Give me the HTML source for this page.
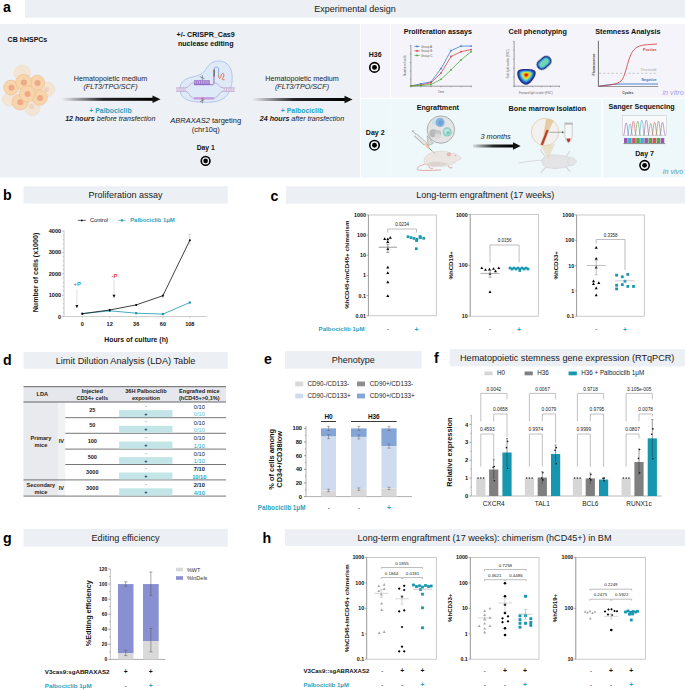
<!DOCTYPE html>
<html><head><meta charset="utf-8"><title>Figure</title>
<style>
html,body{margin:0;padding:0;background:#fff;width:685px;height:690px;overflow:hidden;}
svg{display:block;font-family:"Liberation Sans",sans-serif;}
</style></head><body>
<svg width="685" height="690" viewBox="0 0 685 690">
<rect x="0" y="0" width="685" height="690" fill="#fff"/>
<text x="3.00" y="11.90" font-size="14.2" font-weight="bold" fill="#000">a</text>
<rect x="25.00" y="0.00" width="660.00" height="17.70" fill="#eceff4" />
<text x="355.00" y="12.05" font-size="9" text-anchor="middle" fill="#1a1a1a">Experimental design</text>
<rect x="0.00" y="24.00" width="360.00" height="153.50" fill="#edf0f5" />
<rect x="361.00" y="24.00" width="29.00" height="73.80" fill="#f4f4fa" />
<rect x="391.00" y="24.00" width="294.00" height="73.80" fill="#f4f4fa" />
<rect x="361.00" y="99.20" width="240.50" height="78.30" fill="#eef7f9" />
<rect x="390.20" y="99.20" width="0.60" height="78.30" fill="#f5fafb" />
<rect x="603.00" y="99.20" width="82.00" height="78.30" fill="#eef7f9" />
<text x="7.60" y="41.50" font-size="7" font-weight="bold" fill="#111">CB hHSPCs</text>
<circle cx="22.30" cy="73.10" r="8.20" fill="#f3e4d3" stroke="#ecd8c3" stroke-width="0.4" />
<circle cx="47.70" cy="89.30" r="7.20" fill="#f3e4d3" stroke="#ecd8c3" stroke-width="0.4" />
<circle cx="8.80" cy="99.40" r="6.40" fill="#f3e4d3" stroke="#ecd8c3" stroke-width="0.4" />
<circle cx="32.40" cy="108.20" r="7.60" fill="#f3e4d3" stroke="#ecd8c3" stroke-width="0.4" />
<circle cx="46.50" cy="89.50" r="2.60" fill="#efd3c0" stroke="none" stroke-width="0.7" />
<circle cx="31.50" cy="106.50" r="2.60" fill="#efd3c0" stroke="none" stroke-width="0.7" />
<circle cx="11.20" cy="87.60" r="7.50" fill="#f8d4aa" stroke="#e6b489" stroke-width="0.45" />
<circle cx="11.50" cy="87.80" r="3.00" fill="#eeaa86" stroke="none" stroke-width="0.7" />
<circle cx="37.20" cy="82.80" r="7.60" fill="#f8d4aa" stroke="#e6b489" stroke-width="0.45" />
<circle cx="37.50" cy="83.00" r="3.00" fill="#eeaa86" stroke="none" stroke-width="0.7" />
<circle cx="20.00" cy="102.00" r="8.00" fill="#f8d4aa" stroke="#e6b489" stroke-width="0.45" />
<circle cx="20.30" cy="102.20" r="3.00" fill="#eeaa86" stroke="none" stroke-width="0.7" />
<circle cx="39.80" cy="97.70" r="7.60" fill="#f8d4aa" stroke="#e6b489" stroke-width="0.45" />
<circle cx="40.10" cy="97.90" r="3.00" fill="#eeaa86" stroke="none" stroke-width="0.7" />
<circle cx="23.60" cy="82.30" r="8.00" fill="#f8d4aa" stroke="#e6b489" stroke-width="0.45" />
<circle cx="23.90" cy="82.50" r="3.00" fill="#eeaa86" stroke="none" stroke-width="0.7" />
<circle cx="27.30" cy="93.70" r="8.00" fill="#f8d4aa" stroke="#e6b489" stroke-width="0.45" />
<circle cx="27.60" cy="93.90" r="3.00" fill="#eeaa86" stroke="none" stroke-width="0.7" />
<defs><linearGradient id="ag" x1="0" x2="1" y1="0" y2="0"><stop offset="0" stop-color="#000" stop-opacity="0"/><stop offset="0.45" stop-color="#000" stop-opacity="0.85"/><stop offset="1" stop-color="#000"/></linearGradient></defs>
<rect x="61.50" y="97.80" width="92.00" height="3.00" fill="url(#ag)" />
<path d="M152.50,95.60 L160.50,99.30 L152.50,103.00 Z" fill="#111" stroke="none" stroke-width="0.7" />
<text x="110.50" y="81.40" font-size="7.2" text-anchor="middle" fill="#222">Hematopoietic medium</text>
<text x="110.50" y="89.40" font-size="7.2" text-anchor="middle" font-style="italic" fill="#222">(FLT3/TPO/SCF)</text>
<text x="110.50" y="113.20" font-size="6.9" font-weight="bold" text-anchor="middle" fill="#29a3bf">+ Palbociclib</text>
<text x="110.3" y="121.0" font-size="7.1" text-anchor="middle" fill="#222" font-style="italic"><tspan font-weight="bold">12 hours</tspan> before transfection</text>
<text x="205.70" y="37.30" font-size="7.1" font-weight="bold" text-anchor="middle" fill="#111">+/- CRISPR_Cas9</text>
<text x="205.70" y="45.50" font-size="7.1" font-weight="bold" text-anchor="middle" fill="#111">nuclease editing</text>
<path d="M180,88.8 C180,82 185,78.5 192,77 C199,75.5 203,74 206,69 C209,64 213,61 219,61 C226,61 231,66 232,74 C233,84 230,93 225,97.5 C219,102 211,102.5 203.7,102.3 C194,102 186,101 182,96 C180.5,94 180,91 180,88.8 Z" fill="#dfeaf8" stroke="#8aa6dc" stroke-width="0.55" />
<rect x="176.10" y="87.80" width="9.70" height="3.60" fill="#e6d8ec" />
<rect x="223.10" y="87.80" width="11.80" height="3.60" fill="#e6d8ec" />
<line x1="177.20" y1="87.80" x2="177.20" y2="91.40" stroke="#c8b0d6" stroke-width="0.5" />
<line x1="224.20" y1="87.80" x2="224.20" y2="91.40" stroke="#c8b0d6" stroke-width="0.5" />
<line x1="179.20" y1="87.80" x2="179.20" y2="91.40" stroke="#c8b0d6" stroke-width="0.5" />
<line x1="226.50" y1="87.80" x2="226.50" y2="91.40" stroke="#c8b0d6" stroke-width="0.5" />
<line x1="181.20" y1="87.80" x2="181.20" y2="91.40" stroke="#c8b0d6" stroke-width="0.5" />
<line x1="228.80" y1="87.80" x2="228.80" y2="91.40" stroke="#c8b0d6" stroke-width="0.5" />
<line x1="183.20" y1="87.80" x2="183.20" y2="91.40" stroke="#c8b0d6" stroke-width="0.5" />
<line x1="231.10" y1="87.80" x2="231.10" y2="91.40" stroke="#c8b0d6" stroke-width="0.5" />
<line x1="185.20" y1="87.80" x2="185.20" y2="91.40" stroke="#c8b0d6" stroke-width="0.5" />
<line x1="233.40" y1="87.80" x2="233.40" y2="91.40" stroke="#c8b0d6" stroke-width="0.5" />
<line x1="176.10" y1="87.80" x2="185.80" y2="87.80" stroke="#a58ab8" stroke-width="0.5" />
<line x1="176.10" y1="91.40" x2="185.80" y2="91.40" stroke="#a58ab8" stroke-width="0.5" />
<line x1="223.10" y1="87.80" x2="234.90" y2="87.80" stroke="#a58ab8" stroke-width="0.5" />
<line x1="223.10" y1="91.40" x2="234.90" y2="91.40" stroke="#a58ab8" stroke-width="0.5" />
<path d="M185.8,87.8 C189,87.6 190,82.6 194,82.6" fill="none" stroke="#a58ab8" stroke-width="0.6" />
<path d="M185.8,91.4 C189,91.6 190,98.3 194,98.3" fill="none" stroke="#a58ab8" stroke-width="0.6" />
<path d="M213.9,98.3 C218,98.3 219,91.6 223.1,91.4" fill="none" stroke="#a58ab8" stroke-width="0.6" />
<path d="M213.9,82.6 C218,82.6 219,87.6 223.1,87.8" fill="none" stroke="#a58ab8" stroke-width="0.6" />
<rect x="194.00" y="80.10" width="15.80" height="4.60" fill="#a07ccc" />
<line x1="195.30" y1="80.60" x2="195.30" y2="83.60" stroke="#d6c4ea" stroke-width="0.7" />
<line x1="197.40" y1="80.60" x2="197.40" y2="83.60" stroke="#d6c4ea" stroke-width="0.7" />
<line x1="199.50" y1="80.60" x2="199.50" y2="83.60" stroke="#d6c4ea" stroke-width="0.7" />
<line x1="201.60" y1="80.60" x2="201.60" y2="83.60" stroke="#d6c4ea" stroke-width="0.7" />
<line x1="203.70" y1="80.60" x2="203.70" y2="83.60" stroke="#d6c4ea" stroke-width="0.7" />
<line x1="205.80" y1="80.60" x2="205.80" y2="83.60" stroke="#d6c4ea" stroke-width="0.7" />
<line x1="207.90" y1="80.60" x2="207.90" y2="83.60" stroke="#d6c4ea" stroke-width="0.7" />
<path d="M194,84.7 L212.5,84.7 C213.5,84.7 213.9,84 213.9,83 L213.9,70" fill="none" stroke="#7e4fc0" stroke-width="0.8" />
<rect x="194.00" y="97.20" width="19.90" height="2.30" fill="#c49ae0" />
<rect x="201.00" y="97.00" width="3.20" height="2.60" fill="#e08ab8" />
<path d="M214.2,72 L214.2,68.6 C214.2,66.6 218.6,66.6 218.6,68.6 L218.6,75" fill="none" stroke="#5a82c8" stroke-width="0.6" />
<rect x="213.60" y="69.50" width="1.40" height="7.00" fill="#777" />
<path d="M218.6,75 C218.6,79 220.5,79.6 221,76 C221.5,72.5 224.5,72.5 223.8,76 C223.3,78.6 221.5,79 222.5,79.6 C223.5,80.1 224.6,79.6 224.6,79.6" fill="none" stroke="#e0562f" stroke-width="0.8" />
<path d="M199.8,76.6 L204.6,78.8 M202.4,75.0 L202.2,80.2 M199.8,101.8 L204.6,99.6 M202.4,103.4 L202.2,98.2" fill="none" stroke="#444" stroke-width="0.5" />
<text x="205.7" y="122.9" font-size="7.5" text-anchor="middle" fill="#222"><tspan font-style="italic">ABRAXAS2</tspan> targeting</text>
<text x="205.70" y="132.30" font-size="7.5" text-anchor="middle" fill="#222">(chr10q)</text>
<text x="205.70" y="149.80" font-size="6.8" font-weight="bold" text-anchor="middle" fill="#111">Day 1</text>
<circle cx="205.60" cy="160.90" r="4.35" fill="none" stroke="#000" stroke-width="1.6" />
<circle cx="205.60" cy="160.90" r="2.29" fill="#000" stroke="none" stroke-width="0.7" />
<rect x="252.00" y="98.00" width="93.50" height="3.00" fill="url(#ag)" />
<path d="M344.50,95.80 L352.50,99.50 L344.50,103.20 Z" fill="#111" stroke="none" stroke-width="0.7" />
<text x="302.00" y="81.20" font-size="7.2" text-anchor="middle" fill="#222">Hematopoietic medium</text>
<text x="302.00" y="89.40" font-size="7.2" text-anchor="middle" font-style="italic" fill="#222">(FLT3/TPO/SCF)</text>
<text x="302.00" y="112.60" font-size="6.9" font-weight="bold" text-anchor="middle" fill="#29a3bf">+ Palbociclib</text>
<text x="302" y="121.0" font-size="7.1" text-anchor="middle" fill="#222" font-style="italic"><tspan font-weight="bold">24 hours</tspan>  after transfection</text>
<text x="375.20" y="56.60" font-size="7.0" font-weight="bold" text-anchor="middle" fill="#111">H36</text>
<circle cx="374.50" cy="67.40" r="4.75" fill="none" stroke="#000" stroke-width="1.6" />
<circle cx="374.50" cy="67.40" r="2.46" fill="#000" stroke="none" stroke-width="0.7" />
<text x="375.20" y="134.60" font-size="7.0" font-weight="bold" text-anchor="middle" fill="#111">Day 2</text>
<circle cx="374.50" cy="145.20" r="4.75" fill="none" stroke="#000" stroke-width="1.6" />
<circle cx="374.50" cy="145.20" r="2.46" fill="#000" stroke="none" stroke-width="0.7" />
<text x="437.80" y="34.30" font-size="7.2" font-weight="bold" text-anchor="middle" fill="#111">Proliferation assays</text>
<line x1="410.90" y1="45.00" x2="410.90" y2="86.20" stroke="#444" stroke-width="0.5" />
<line x1="410.90" y1="86.20" x2="472.00" y2="86.20" stroke="#444" stroke-width="0.5" />
<line x1="410.90" y1="86.20" x2="410.90" y2="87.30" stroke="#444" stroke-width="0.4" />
<line x1="420.90" y1="86.20" x2="420.90" y2="87.30" stroke="#444" stroke-width="0.4" />
<line x1="431.00" y1="86.20" x2="431.00" y2="87.30" stroke="#444" stroke-width="0.4" />
<line x1="441.00" y1="86.20" x2="441.00" y2="87.30" stroke="#444" stroke-width="0.4" />
<line x1="451.00" y1="86.20" x2="451.00" y2="87.30" stroke="#444" stroke-width="0.4" />
<line x1="461.00" y1="86.20" x2="461.00" y2="87.30" stroke="#444" stroke-width="0.4" />
<line x1="471.10" y1="86.20" x2="471.10" y2="87.30" stroke="#444" stroke-width="0.4" />
<line x1="410.90" y1="45.50" x2="409.90" y2="45.50" stroke="#444" stroke-width="0.4" />
<line x1="410.90" y1="54.00" x2="409.90" y2="54.00" stroke="#444" stroke-width="0.4" />
<line x1="410.90" y1="62.50" x2="409.90" y2="62.50" stroke="#444" stroke-width="0.4" />
<line x1="410.90" y1="71.00" x2="409.90" y2="71.00" stroke="#444" stroke-width="0.4" />
<line x1="410.90" y1="79.00" x2="409.90" y2="79.00" stroke="#444" stroke-width="0.4" />
<polyline points="410.9,85.9 420.9,83.8 431.0,81.9 441.0,68.6 451.0,50.6 461.0,46.1 471.1,46.1" fill="none" stroke="#3a7fd6" stroke-width="0.8"/>
<circle cx="410.90" cy="85.90" r="0.90" fill="#3a7fd6" stroke="none" stroke-width="0.7" />
<circle cx="420.90" cy="83.80" r="0.90" fill="#3a7fd6" stroke="none" stroke-width="0.7" />
<circle cx="431.00" cy="81.90" r="0.90" fill="#3a7fd6" stroke="none" stroke-width="0.7" />
<circle cx="441.00" cy="68.60" r="0.90" fill="#3a7fd6" stroke="none" stroke-width="0.7" />
<circle cx="451.00" cy="50.60" r="0.90" fill="#3a7fd6" stroke="none" stroke-width="0.7" />
<circle cx="461.00" cy="46.10" r="0.90" fill="#3a7fd6" stroke="none" stroke-width="0.7" />
<circle cx="471.10" cy="46.10" r="0.90" fill="#3a7fd6" stroke="none" stroke-width="0.7" />
<polyline points="410.9,85.9 420.9,85.0 431.0,82.7 441.0,73.1 451.0,56.5 461.0,51.7 471.1,49.6" fill="none" stroke="#d64545" stroke-width="0.8"/>
<circle cx="410.90" cy="85.90" r="0.90" fill="#d64545" stroke="none" stroke-width="0.7" />
<circle cx="420.90" cy="85.00" r="0.90" fill="#d64545" stroke="none" stroke-width="0.7" />
<circle cx="431.00" cy="82.70" r="0.90" fill="#d64545" stroke="none" stroke-width="0.7" />
<circle cx="441.00" cy="73.10" r="0.90" fill="#d64545" stroke="none" stroke-width="0.7" />
<circle cx="451.00" cy="56.50" r="0.90" fill="#d64545" stroke="none" stroke-width="0.7" />
<circle cx="461.00" cy="51.70" r="0.90" fill="#d64545" stroke="none" stroke-width="0.7" />
<circle cx="471.10" cy="49.60" r="0.90" fill="#d64545" stroke="none" stroke-width="0.7" />
<polyline points="410.9,85.9 420.9,85.4 431.0,84.6 441.0,79.3 451.0,69.9 461.0,59.9 471.1,51.7" fill="none" stroke="#4fae3f" stroke-width="0.8"/>
<circle cx="410.90" cy="85.90" r="0.90" fill="#4fae3f" stroke="none" stroke-width="0.7" />
<circle cx="420.90" cy="85.40" r="0.90" fill="#4fae3f" stroke="none" stroke-width="0.7" />
<circle cx="431.00" cy="84.60" r="0.90" fill="#4fae3f" stroke="none" stroke-width="0.7" />
<circle cx="441.00" cy="79.30" r="0.90" fill="#4fae3f" stroke="none" stroke-width="0.7" />
<circle cx="451.00" cy="69.90" r="0.90" fill="#4fae3f" stroke="none" stroke-width="0.7" />
<circle cx="461.00" cy="59.90" r="0.90" fill="#4fae3f" stroke="none" stroke-width="0.7" />
<circle cx="471.10" cy="51.70" r="0.90" fill="#4fae3f" stroke="none" stroke-width="0.7" />
<line x1="414.50" y1="46.40" x2="419.50" y2="46.40" stroke="#3a7fd6" stroke-width="0.8" />
<circle cx="417.00" cy="46.40" r="0.90" fill="#3a7fd6" stroke="none" stroke-width="0.7" />
<text x="421.00" y="47.50" font-size="3.0" fill="#666">Group A</text>
<line x1="414.50" y1="50.90" x2="419.50" y2="50.90" stroke="#d64545" stroke-width="0.8" />
<circle cx="417.00" cy="50.90" r="0.90" fill="#d64545" stroke="none" stroke-width="0.7" />
<text x="421.00" y="52.00" font-size="3.0" fill="#666">Group B</text>
<line x1="414.50" y1="55.40" x2="419.50" y2="55.40" stroke="#4fae3f" stroke-width="0.8" />
<circle cx="417.00" cy="55.40" r="0.90" fill="#4fae3f" stroke="none" stroke-width="0.7" />
<text x="421.00" y="56.50" font-size="3.0" fill="#666">Group C</text>
<text x="441.00" y="93.30" font-size="3.0" text-anchor="middle" fill="#666">Time</text>
<text x="406.20" y="65.60" font-size="3.0" text-anchor="middle" fill="#666" transform="rotate(-90 406.20 65.60)">Number of cells</text>
<text x="537.70" y="34.30" font-size="7.2" font-weight="bold" text-anchor="middle" fill="#111">Cell phenotyping</text>
<line x1="514.10" y1="41.00" x2="514.10" y2="86.20" stroke="#444" stroke-width="0.5" />
<line x1="514.10" y1="86.20" x2="560.00" y2="86.20" stroke="#444" stroke-width="0.5" />
<line x1="514.10" y1="86.20" x2="514.10" y2="87.20" stroke="#444" stroke-width="0.4" />
<line x1="514.10" y1="86.20" x2="513.10" y2="86.20" stroke="#444" stroke-width="0.4" />
<line x1="523.20" y1="86.20" x2="523.20" y2="87.20" stroke="#444" stroke-width="0.4" />
<line x1="514.10" y1="77.20" x2="513.10" y2="77.20" stroke="#444" stroke-width="0.4" />
<line x1="532.30" y1="86.20" x2="532.30" y2="87.20" stroke="#444" stroke-width="0.4" />
<line x1="514.10" y1="68.20" x2="513.10" y2="68.20" stroke="#444" stroke-width="0.4" />
<line x1="541.40" y1="86.20" x2="541.40" y2="87.20" stroke="#444" stroke-width="0.4" />
<line x1="514.10" y1="59.20" x2="513.10" y2="59.20" stroke="#444" stroke-width="0.4" />
<line x1="550.50" y1="86.20" x2="550.50" y2="87.20" stroke="#444" stroke-width="0.4" />
<line x1="514.10" y1="50.20" x2="513.10" y2="50.20" stroke="#444" stroke-width="0.4" />
<line x1="559.60" y1="86.20" x2="559.60" y2="87.20" stroke="#444" stroke-width="0.4" />
<line x1="514.10" y1="41.20" x2="513.10" y2="41.20" stroke="#444" stroke-width="0.4" />
<defs><filter id="bl" x="-20%" y="-20%" width="140%" height="140%"><feGaussianBlur stdDeviation="0.35"/></filter></defs>
<g transform="translate(526.2 75.6) scale(1 1.08)" filter="url(#bl)"><path d="M-9,-2 C-9,-6 -4,-6 0,-6 C5,-6 10,-5.5 9.5,-2 C9,2 4,8 0,8.5 C-4,8.5 -9,3 -9,-2 Z" fill="#1f2e88" transform="translate(0 -0.00) scale(1.0)"/><path d="M-9,-2 C-9,-6 -4,-6 0,-6 C5,-6 10,-5.5 9.5,-2 C9,2 4,8 0,8.5 C-4,8.5 -9,3 -9,-2 Z" fill="#2f4fb8" transform="translate(0 -0.11) scale(0.86)"/><path d="M-9,-2 C-9,-6 -4,-6 0,-6 C5,-6 10,-5.5 9.5,-2 C9,2 4,8 0,8.5 C-4,8.5 -9,3 -9,-2 Z" fill="#3aa7dc" transform="translate(0 -0.22) scale(0.72)"/><path d="M-9,-2 C-9,-6 -4,-6 0,-6 C5,-6 10,-5.5 9.5,-2 C9,2 4,8 0,8.5 C-4,8.5 -9,3 -9,-2 Z" fill="#62d6c0" transform="translate(0 -0.34) scale(0.58)"/><path d="M-9,-2 C-9,-6 -4,-6 0,-6 C5,-6 10,-5.5 9.5,-2 C9,2 4,8 0,8.5 C-4,8.5 -9,3 -9,-2 Z" fill="#c8e040" transform="translate(0 -0.42) scale(0.48)"/><path d="M-9,-2 C-9,-6 -4,-6 0,-6 C5,-6 10,-5.5 9.5,-2 C9,2 4,8 0,8.5 C-4,8.5 -9,3 -9,-2 Z" fill="#f2d21c" transform="translate(0 -0.50) scale(0.38)"/><path d="M-9,-2 C-9,-6 -4,-6 0,-6 C5,-6 10,-5.5 9.5,-2 C9,2 4,8 0,8.5 C-4,8.5 -9,3 -9,-2 Z" fill="#f07a1c" transform="translate(0 -0.58) scale(0.27)"/><path d="M-9,-2 C-9,-6 -4,-6 0,-6 C5,-6 10,-5.5 9.5,-2 C9,2 4,8 0,8.5 C-4,8.5 -9,3 -9,-2 Z" fill="#d01a12" transform="translate(0 -0.67) scale(0.16)"/></g>
<g transform="translate(544.1 62.9) rotate(-40)" filter="url(#bl)"><rect x="-8" y="-5.2" width="16" height="10.4" rx="5" fill="#1f2e88"/><rect x="-6.4" y="-3.8" width="12.8" height="7.6" rx="3.8" fill="#3aa7dc"/><rect x="-5.2" y="-2.8" width="10.4" height="5.6" rx="2.8" fill="#6fd6b0"/></g>
<text x="519.00" y="94.30" font-size="2.8" fill="#666">Forward light scatter (FSC)</text>
<text x="508.50" y="64.00" font-size="2.8" text-anchor="middle" fill="#666" transform="rotate(-90 508.50 64.00)">Side light scatter (SSC)</text>
<text x="627.90" y="34.30" font-size="7.2" font-weight="bold" text-anchor="middle" fill="#111">Stemness Analysis</text>
<line x1="598.40" y1="40.70" x2="598.40" y2="86.70" stroke="#333" stroke-width="0.7" />
<line x1="598.40" y1="86.50" x2="658.20" y2="86.50" stroke="#999" stroke-width="1.2" />
<path d="M598.6,86.3 C606,85 612,84.3 620,84 L658,84" fill="none" stroke="#3a78c8" stroke-width="0.9" />
<path d="M598.6,86.3 C610,85 617,84.5 621,81 C625,77 626.5,66 629.5,58 C632.5,49 637,46 644,45 C649,44.5 653,44.3 657,44" fill="none" stroke="#d23a3a" stroke-width="0.8" />
<line x1="599.00" y1="73.30" x2="655.50" y2="73.30" stroke="#aaa" stroke-width="0.6" stroke-dasharray="2.2 2.0"/>
<text x="649.80" y="50.70" font-size="3.5" font-weight="bold" text-anchor="middle" fill="#d23a3a">Positive</text>
<text x="648.20" y="70.70" font-size="3.6" text-anchor="middle" fill="#aaa">Threshold</text>
<text x="649.00" y="80.80" font-size="3.6" font-weight="bold" text-anchor="middle" fill="#3a78c8">Negative</text>
<text x="627.80" y="93.60" font-size="3.4" font-weight="bold" text-anchor="middle" fill="#444">Cycles</text>
<text x="594.50" y="64.50" font-size="3.4" font-weight="bold" text-anchor="middle" fill="#444" transform="rotate(-90 594.50 64.50)">Fluorescence</text>
<text x="662.50" y="95.40" font-size="7.2" font-style="italic" fill="#a8a2ee">in vitro</text>
<text x="437.80" y="109.80" font-size="7.2" font-weight="bold" text-anchor="middle" fill="#111">Engraftment</text>
<path d="M426.8,163.7 C421,165 416,167 417.5,169.5 C419,171 430,170.5 441,169.9" fill="none" stroke="#e3a39c" stroke-width="0.9" />
<path d="M424,162 C423,156 430,151.5 440,151.3 C446,151.2 449,152 451.5,153.5 C454,152.5 457,154 459.5,156.5 L461.5,158.2 C461,159.5 459,160 457,160.5 C455,163.5 450,166 442,166.3 C434,166.8 425,166.3 424,162 Z" fill="#ece6e2" stroke="#cfc4bf" stroke-width="0.4" />
<path d="M426,163.5 C432,161 440,161.5 448,163.5 C446,165.5 440,166.3 433,166.3 C429,166.2 426.5,165.3 426,163.5 Z" fill="#ddd4cf" stroke="none" stroke-width="0.7" />
<circle cx="448.90" cy="154.30" r="1.90" fill="#eeb9b3" stroke="#d9a39b" stroke-width="0.3" />
<circle cx="455.30" cy="155.60" r="0.45" fill="#c03030" stroke="none" stroke-width="0.7" />
<path d="M428.5,166 L430,168.3 L433,168.3 M448,165.5 L449.5,167.8 L452.5,167.8" fill="none" stroke="#e3a39c" stroke-width="0.9" />
<path d="M411.6,131.9 L413.8,130.2 M412.7,131.0 L416,134.2" fill="none" stroke="#9a9a9a" stroke-width="0.8" />
<path d="M415.4,134.8 L425.4,143.8" fill="none" stroke="#8e8e8e" stroke-width="3.6" stroke-linecap="butt"/>
<path d="M415.4,134.8 L425.4,143.8" fill="none" stroke="#eaeaea" stroke-width="2.8" stroke-linecap="butt"/>
<path d="M425.4,143.8 L429.2,148.2" fill="none" stroke="#f0c9a2" stroke-width="2.6" stroke-linecap="butt"/>
<path d="M429.2,148.2 L431.8,150.8" fill="none" stroke="#3fae9a" stroke-width="0.9" />
<path d="M431.8,150.8 L435.4,153.7" fill="none" stroke="#888" stroke-width="0.4" />
<path d="M427.3,135.7 L427.8,145.7 L433.5,143.3 Z" fill="#d9d9d9" stroke="#7a7a7a" stroke-width="0.4" />
<circle cx="440.90" cy="129.60" r="13.70" fill="#e4e4e4" stroke="#6f6f6f" stroke-width="0.5" />
<circle cx="435.40" cy="122.00" r="3.60" fill="#cde0f0" stroke="none" stroke-width="0.7" />
<circle cx="440.10" cy="122.40" r="4.60" fill="#86b6e0" stroke="none" stroke-width="0.7" />
<circle cx="440.60" cy="122.80" r="2.60" fill="#6fa3d6" stroke="none" stroke-width="0.7" />
<circle cx="433.50" cy="133.30" r="4.10" fill="#b9b9b9" stroke="none" stroke-width="0.7" />
<circle cx="437.90" cy="133.30" r="3.20" fill="#c4c4c4" stroke="none" stroke-width="0.7" />
<circle cx="437.70" cy="136.20" r="3.00" fill="#dadada" stroke="none" stroke-width="0.7" />
<circle cx="447.20" cy="131.90" r="4.60" fill="#8fd2c6" stroke="none" stroke-width="0.7" />
<circle cx="447.00" cy="131.60" r="2.60" fill="#c2e9e2" stroke="none" stroke-width="0.7" />
<circle cx="447.80" cy="132.60" r="1.40" fill="#6cc3b5" stroke="none" stroke-width="0.7" />
<text x="495.60" y="138.70" font-size="7.4" text-anchor="middle" font-style="italic" fill="#222">3 months</text>
<defs><linearGradient id="ag2" x1="0" x2="1"><stop offset="0" stop-color="#000" stop-opacity="0.1"/><stop offset="0.5" stop-color="#000" stop-opacity="0.85"/><stop offset="1" stop-color="#000"/></linearGradient></defs>
<rect x="473.00" y="144.50" width="41.00" height="3.00" fill="url(#ag2)" />
<path d="M513,142.2 L520.6,146 L513,149.8 Z" fill="#111" stroke="none" stroke-width="0.7" />
<text x="547.30" y="110.70" font-size="7.2" font-weight="bold" text-anchor="middle" fill="#111">Bone marrow Isolation</text>
<path d="M542.8,160.2 C535,160.5 526,161.5 518.8,163" fill="none" stroke="#cfcfd3" stroke-width="0.7" />
<path d="M545,156 L541,151 L540.5,149 M546,167 L542,171 L541,173 M566,156.5 L569,152.5 L570,151 M566,167 L569,170.5 L570.5,171.5" fill="none" stroke="#d6d6da" stroke-width="1.2" />
<path d="M542,161.5 C542,156.5 548,154.5 556,155 C562,155.3 566,156 569,157.5 C572,156.5 575,158.5 576.5,161.5 C575,164.5 572,166.5 569,165.6 C566,167.5 562,168.2 556,168.4 C548,168.8 542,166.5 542,161.5 Z" fill="#e4e4e6" stroke="#c6c6ca" stroke-width="0.45" />
<path d="M569,157.5 C567.5,160 567.5,163 569,165.6" fill="none" stroke="#cfcfd3" stroke-width="0.5" />
<path d="M540.1,144.8 L548.3,159.1 L554.9,143.8 Z" fill="#ead3ab" stroke="none" stroke-width="0.7" opacity="0.6"/>
<circle cx="545.00" cy="132.00" r="13.70" fill="#f3f1ef" stroke="#d9bb92" stroke-width="0.55" />
<path d="M546.1,119.1 C549,118.6 552,119.2 553.8,120.8 C551,126 549,130 547.5,134 L543.6,134 C544.5,128 545.5,123 546.1,119.1 Z" fill="#e3c79a" stroke="none" stroke-width="0.7" opacity="0.9"/>
<path d="M547.6,130 L541.8,144.8" fill="none" stroke="#d9b98a" stroke-width="3.4" />
<path d="M547.6,130 L541.8,144.8" fill="none" stroke="#b8392f" stroke-width="2.0" />
<line x1="549.40" y1="132.30" x2="563.00" y2="132.30" stroke="#555" stroke-width="0.45" />
<path d="M562,131.1 L564,132.3 L562,133.5 Z" fill="#555" stroke="none" stroke-width="0.7" />
<path d="M564.9,124 L572.2,124 L572.2,135 C572.2,139.5 569.8,142.7 568.5,142.7 C567.2,142.7 564.9,139.5 564.9,135 Z" fill="#f6f8f8" stroke="#9a9a9a" stroke-width="0.45" />
<path d="M566.5,138.6 L570.6,138.6 C570.2,141 569.2,142.2 568.5,142.2 C567.8,142.2 566.9,141 566.5,138.6 Z" fill="#c0302a" stroke="none" stroke-width="0.7" />
<rect x="564.40" y="122.60" width="8.40" height="1.80" fill="#b9b9b9" />
<text x="641.60" y="109.10" font-size="7.1" font-weight="bold" text-anchor="middle" fill="#111">Sanger Sequencing</text>
<rect x="622.30" y="115.60" width="44.10" height="20.10" fill="#f9fafb" stroke="#b5b5b5" stroke-width="0.4"/>
<path d="M623.6,135.6 C625.0,131.9 625.1,122.9 626.2,122.9 C627.3,122.9 627.4,131.9 628.8,135.6" fill="none" stroke="#9b59b6" stroke-width="0.6" />
<path d="M627.5,135.6 C628.9,133.0 629.0,124.0 630.1,124.0 C631.2,124.0 631.3,133.0 632.7,135.6" fill="none" stroke="#3fb0c8" stroke-width="0.6" />
<path d="M630.8,135.6 C632.2,130.2 632.3,121.2 633.4,121.2 C634.5,121.2 634.6,130.2 636.0,135.6" fill="none" stroke="#d9506a" stroke-width="0.6" />
<path d="M635.1,135.6 C636.5,130.2 636.6,121.2 637.7,121.2 C638.8,121.2 638.9,130.2 640.3,135.6" fill="none" stroke="#5ca04a" stroke-width="0.6" />
<path d="M639.2,135.6 C640.6,129.1 640.7,120.1 641.8,120.1 C642.9,120.1 643.0,129.1 644.4,135.6" fill="none" stroke="#3fb0c8" stroke-width="0.6" />
<path d="M643.7,135.6 C645.1,129.1 645.2,120.1 646.3,120.1 C647.4,120.1 647.5,129.1 648.9,135.6" fill="none" stroke="#9b59b6" stroke-width="0.6" />
<path d="M648.1,135.6 C649.5,132.4 649.6,123.4 650.7,123.4 C651.8,123.4 651.9,132.4 653.3,135.6" fill="none" stroke="#5ca04a" stroke-width="0.6" />
<path d="M652.0,135.6 C653.4,131.3 653.5,122.3 654.6,122.3 C655.7,122.3 655.8,131.3 657.2,135.6" fill="none" stroke="#d9506a" stroke-width="0.6" />
<path d="M655.9,135.6 C657.3,130.2 657.4,121.2 658.5,121.2 C659.6,121.2 659.7,130.2 661.1,135.6" fill="none" stroke="#5ca04a" stroke-width="0.6" />
<path d="M659.9,135.6 C661.3,131.3 661.4,122.3 662.5,122.3 C663.6,122.3 663.7,131.3 665.1,135.6" fill="none" stroke="#9b59b6" stroke-width="0.6" />
<rect x="624.00" y="138.00" width="3.60" height="5.00" fill="#9b59b6" />
<rect x="628.07" y="138.00" width="3.60" height="5.00" fill="#3fb0c8" />
<rect x="632.14" y="138.00" width="3.60" height="5.00" fill="#d9506a" />
<rect x="636.21" y="138.00" width="3.60" height="5.00" fill="#5ca04a" />
<rect x="640.28" y="138.00" width="3.60" height="5.00" fill="#3fb0c8" />
<rect x="644.35" y="138.00" width="3.60" height="5.00" fill="#9b59b6" />
<rect x="648.42" y="138.00" width="3.60" height="5.00" fill="#5ca04a" />
<rect x="652.49" y="138.00" width="3.60" height="5.00" fill="#d9506a" />
<rect x="656.56" y="138.00" width="3.60" height="5.00" fill="#5ca04a" />
<rect x="660.63" y="138.00" width="3.60" height="5.00" fill="#9b59b6" />
<line x1="623.50" y1="143.60" x2="665.20" y2="143.60" stroke="#444" stroke-width="0.6" />
<text x="644.60" y="155.80" font-size="7.0" font-weight="bold" text-anchor="middle" fill="#111">Day 7</text>
<circle cx="644.60" cy="165.30" r="4.65" fill="none" stroke="#000" stroke-width="1.6" />
<circle cx="644.60" cy="165.30" r="2.42" fill="#000" stroke="none" stroke-width="0.7" />
<text x="662.80" y="174.30" font-size="7.2" font-style="italic" fill="#39a9c4">in vivo</text>
<text x="3.00" y="200.30" font-size="14.2" font-weight="bold" fill="#000">b</text>
<rect x="23.50" y="186.20" width="204.20" height="17.40" fill="#eceff4" />
<text x="125.60" y="198.10" font-size="9" text-anchor="middle" fill="#1a1a1a">Proliferation assay</text>
<line x1="77.80" y1="220.40" x2="85.80" y2="220.40" stroke="#000" stroke-width="0.6" />
<circle cx="81.80" cy="220.40" r="0.90" fill="#000" stroke="none" stroke-width="0.7" />
<text x="90.00" y="222.30" font-size="5.6" fill="#111">Control</text>
<line x1="118.20" y1="220.40" x2="125.60" y2="220.40" stroke="#1697af" stroke-width="0.6" />
<rect x="120.89" y="219.39" width="2.02" height="2.02" fill="#1697af" />
<text x="130.20" y="222.30" font-size="5.9" font-weight="bold" fill="#29a3bf">Palbociclib 1μM</text>
<line x1="64.00" y1="230.60" x2="64.00" y2="316.80" stroke="#b8b8b8" stroke-width="0.8" />
<line x1="63.70" y1="316.50" x2="207.10" y2="316.50" stroke="#c8c8c8" stroke-width="0.9" />
<line x1="62.00" y1="316.50" x2="64.00" y2="316.50" stroke="#999" stroke-width="0.5" />
<text x="61.20" y="318.50" font-size="5.6" font-weight="bold" text-anchor="end" fill="#111">0</text>
<line x1="62.80" y1="312.23" x2="64.00" y2="312.23" stroke="#999" stroke-width="0.5" />
<line x1="62.80" y1="307.96" x2="64.00" y2="307.96" stroke="#999" stroke-width="0.5" />
<line x1="62.80" y1="303.69" x2="64.00" y2="303.69" stroke="#999" stroke-width="0.5" />
<line x1="62.80" y1="299.42" x2="64.00" y2="299.42" stroke="#999" stroke-width="0.5" />
<line x1="62.00" y1="295.15" x2="64.00" y2="295.15" stroke="#999" stroke-width="0.5" />
<text x="61.20" y="297.15" font-size="5.6" font-weight="bold" text-anchor="end" fill="#111">1000</text>
<line x1="62.80" y1="290.88" x2="64.00" y2="290.88" stroke="#999" stroke-width="0.5" />
<line x1="62.80" y1="286.61" x2="64.00" y2="286.61" stroke="#999" stroke-width="0.5" />
<line x1="62.80" y1="282.34" x2="64.00" y2="282.34" stroke="#999" stroke-width="0.5" />
<line x1="62.80" y1="278.07" x2="64.00" y2="278.07" stroke="#999" stroke-width="0.5" />
<line x1="62.00" y1="273.80" x2="64.00" y2="273.80" stroke="#999" stroke-width="0.5" />
<text x="61.20" y="275.80" font-size="5.6" font-weight="bold" text-anchor="end" fill="#111">2000</text>
<line x1="62.80" y1="269.53" x2="64.00" y2="269.53" stroke="#999" stroke-width="0.5" />
<line x1="62.80" y1="265.26" x2="64.00" y2="265.26" stroke="#999" stroke-width="0.5" />
<line x1="62.80" y1="260.99" x2="64.00" y2="260.99" stroke="#999" stroke-width="0.5" />
<line x1="62.80" y1="256.72" x2="64.00" y2="256.72" stroke="#999" stroke-width="0.5" />
<line x1="62.00" y1="252.45" x2="64.00" y2="252.45" stroke="#999" stroke-width="0.5" />
<text x="61.20" y="254.45" font-size="5.6" font-weight="bold" text-anchor="end" fill="#111">3000</text>
<line x1="62.80" y1="248.18" x2="64.00" y2="248.18" stroke="#999" stroke-width="0.5" />
<line x1="62.80" y1="243.91" x2="64.00" y2="243.91" stroke="#999" stroke-width="0.5" />
<line x1="62.80" y1="239.64" x2="64.00" y2="239.64" stroke="#999" stroke-width="0.5" />
<line x1="62.80" y1="235.37" x2="64.00" y2="235.37" stroke="#999" stroke-width="0.5" />
<line x1="62.00" y1="231.10" x2="64.00" y2="231.10" stroke="#999" stroke-width="0.5" />
<text x="61.20" y="233.10" font-size="5.6" font-weight="bold" text-anchor="end" fill="#111">4000</text>
<line x1="82.30" y1="316.50" x2="82.30" y2="318.30" stroke="#aaa" stroke-width="0.5" />
<text x="82.30" y="325.90" font-size="5.6" font-weight="bold" text-anchor="middle" fill="#111">0</text>
<line x1="109.70" y1="316.50" x2="109.70" y2="318.30" stroke="#aaa" stroke-width="0.5" />
<text x="109.70" y="325.90" font-size="5.6" font-weight="bold" text-anchor="middle" fill="#111">12</text>
<line x1="136.20" y1="316.50" x2="136.20" y2="318.30" stroke="#aaa" stroke-width="0.5" />
<text x="136.20" y="325.90" font-size="5.6" font-weight="bold" text-anchor="middle" fill="#111">36</text>
<line x1="162.90" y1="316.50" x2="162.90" y2="318.30" stroke="#aaa" stroke-width="0.5" />
<text x="162.90" y="325.90" font-size="5.6" font-weight="bold" text-anchor="middle" fill="#111">60</text>
<line x1="189.80" y1="316.50" x2="189.80" y2="318.30" stroke="#aaa" stroke-width="0.5" />
<text x="189.80" y="325.90" font-size="5.6" font-weight="bold" text-anchor="middle" fill="#111">108</text>
<text x="136.20" y="341.80" font-size="6.9" font-weight="bold" text-anchor="middle" fill="#111">Hours of culture (h)</text>
<text x="38.30" y="272.50" font-size="7.1" font-weight="bold" text-anchor="middle" fill="#111" transform="rotate(-90 38.30 272.50)">Number of cells (x1000)</text>
<line x1="189.80" y1="234.20" x2="189.80" y2="245.10" stroke="#bbb" stroke-width="0.7" />
<line x1="188.30" y1="234.20" x2="191.30" y2="234.20" stroke="#bbb" stroke-width="0.6" />
<line x1="162.90" y1="293.00" x2="162.90" y2="298.60" stroke="#bbb" stroke-width="0.7" />
<polyline points="82.3,313.7 109.7,310.8 136.2,313.2 162.9,314.1 189.8,302.5" fill="none" stroke="#1697af" stroke-width="0.8"/>
<rect x="81.24" y="312.64" width="2.13" height="2.13" fill="#1697af" />
<rect x="108.64" y="309.74" width="2.13" height="2.13" fill="#1697af" />
<rect x="135.14" y="312.14" width="2.13" height="2.13" fill="#1697af" />
<rect x="161.84" y="313.04" width="2.13" height="2.13" fill="#1697af" />
<rect x="188.74" y="301.44" width="2.13" height="2.13" fill="#1697af" />
<polyline points="82.3,313.7 109.7,310.0 136.2,304.9 162.9,295.7 189.8,240.3" fill="none" stroke="#111" stroke-width="0.8"/>
<circle cx="82.30" cy="313.70" r="1.00" fill="#000" stroke="none" stroke-width="0.7" />
<circle cx="109.70" cy="310.00" r="1.00" fill="#000" stroke="none" stroke-width="0.7" />
<circle cx="136.20" cy="304.90" r="1.00" fill="#000" stroke="none" stroke-width="0.7" />
<circle cx="162.90" cy="295.70" r="1.00" fill="#000" stroke="none" stroke-width="0.7" />
<circle cx="189.80" cy="240.30" r="1.00" fill="#000" stroke="none" stroke-width="0.7" />
<text x="77.20" y="286.10" font-size="5.8" font-weight="bold" text-anchor="middle" fill="#29a3bf">+P</text>
<line x1="76.90" y1="289.60" x2="76.90" y2="305.50" stroke="#c8c8c8" stroke-width="0.6" />
<path d="M75.4,305 L78.4,305 L76.9,308.2 Z" fill="#111" stroke="none" stroke-width="0.7" />
<text x="114.40" y="277.50" font-size="5.8" font-weight="bold" text-anchor="middle" fill="#e8453c">-P</text>
<line x1="114.00" y1="279.70" x2="114.00" y2="295.30" stroke="#c8c8c8" stroke-width="0.6" />
<path d="M112.5,294.8 L115.5,294.8 L114,298 Z" fill="#111" stroke="none" stroke-width="0.7" />
<text x="270.50" y="200.90" font-size="14.2" font-weight="bold" fill="#000">c</text>
<rect x="286.00" y="186.20" width="399.00" height="17.40" fill="#eceff4" />
<text x="485.30" y="198.10" font-size="9" text-anchor="middle" fill="#1a1a1a">Long-term engraftment (17 weeks)</text>
<text x="318.60" y="331.30" font-size="6.1" font-weight="bold" fill="#29a3bf">Palbociclib 1μM</text>
<rect x="368.40" y="215.00" width="67.90" height="100.80" fill="none" stroke="#b4b4b4" stroke-width="0.7"/>
<line x1="368.40" y1="215.00" x2="368.40" y2="315.80" stroke="#8f8f8f" stroke-width="0.7" />
<line x1="366.60" y1="315.80" x2="368.40" y2="315.80" stroke="#666" stroke-width="0.5" />
<text x="365.90" y="317.70" font-size="5.3" font-weight="bold" text-anchor="end" fill="#111">0.01</text>
<line x1="366.60" y1="295.64" x2="368.40" y2="295.64" stroke="#666" stroke-width="0.5" />
<text x="365.90" y="297.54" font-size="5.3" font-weight="bold" text-anchor="end" fill="#111">0.1</text>
<line x1="366.60" y1="275.48" x2="368.40" y2="275.48" stroke="#666" stroke-width="0.5" />
<text x="365.90" y="277.38" font-size="5.3" font-weight="bold" text-anchor="end" fill="#111">1</text>
<line x1="366.60" y1="255.32" x2="368.40" y2="255.32" stroke="#666" stroke-width="0.5" />
<text x="365.90" y="257.22" font-size="5.3" font-weight="bold" text-anchor="end" fill="#111">10</text>
<line x1="366.60" y1="235.16" x2="368.40" y2="235.16" stroke="#666" stroke-width="0.5" />
<text x="365.90" y="237.06" font-size="5.3" font-weight="bold" text-anchor="end" fill="#111">100</text>
<line x1="366.60" y1="215.00" x2="368.40" y2="215.00" stroke="#666" stroke-width="0.5" />
<text x="365.90" y="216.90" font-size="5.3" font-weight="bold" text-anchor="end" fill="#111">1000</text>
<text x="349.50" y="264.60" font-size="6.2" font-weight="bold" text-anchor="middle" fill="#111" transform="rotate(-90 349.50 264.60)">%hCD45+/mCD45+ chimerism</text>
<path d="M383.19,239.99 L386.21,239.99 L384.70,237.26 Z" fill="#000" stroke="none" stroke-width="0.7" />
<path d="M388.79,238.79 L391.81,238.79 L390.30,236.06 Z" fill="#000" stroke="none" stroke-width="0.7" />
<path d="M386.29,240.19 L389.31,240.19 L387.80,237.46 Z" fill="#000" stroke="none" stroke-width="0.7" />
<path d="M386.29,242.99 L389.31,242.99 L387.80,240.26 Z" fill="#000" stroke="none" stroke-width="0.7" />
<path d="M386.29,249.99 L389.31,249.99 L387.80,247.26 Z" fill="#000" stroke="none" stroke-width="0.7" />
<path d="M386.29,268.49 L389.31,268.49 L387.80,265.76 Z" fill="#000" stroke="none" stroke-width="0.7" />
<path d="M386.29,274.09 L389.31,274.09 L387.80,271.36 Z" fill="#000" stroke="none" stroke-width="0.7" />
<path d="M386.29,283.29 L389.31,283.29 L387.80,280.56 Z" fill="#000" stroke="none" stroke-width="0.7" />
<path d="M386.29,297.09 L389.31,297.09 L387.80,294.36 Z" fill="#000" stroke="none" stroke-width="0.7" />
<line x1="378.60" y1="247.20" x2="397.00" y2="247.20" stroke="#555" stroke-width="0.6" />
<line x1="387.80" y1="244.20" x2="387.80" y2="252.40" stroke="#555" stroke-width="0.6" />
<line x1="386.20" y1="244.20" x2="389.40" y2="244.20" stroke="#555" stroke-width="0.5" />
<line x1="386.20" y1="252.40" x2="389.40" y2="252.40" stroke="#555" stroke-width="0.5" />
<rect x="406.66" y="235.36" width="2.69" height="2.69" fill="#1697af" />
<rect x="409.66" y="236.26" width="2.69" height="2.69" fill="#1697af" />
<rect x="412.66" y="237.06" width="2.69" height="2.69" fill="#1697af" />
<rect x="415.66" y="237.86" width="2.69" height="2.69" fill="#1697af" />
<rect x="419.16" y="236.26" width="2.69" height="2.69" fill="#1697af" />
<rect x="422.46" y="236.96" width="2.69" height="2.69" fill="#1697af" />
<rect x="415.16" y="239.26" width="2.69" height="2.69" fill="#1697af" />
<rect x="418.66" y="235.16" width="2.69" height="2.69" fill="#1697af" />
<rect x="414.96" y="247.36" width="2.69" height="2.69" fill="#1697af" />
<path d="M387.80,232.60 L387.80,229.00 L416.50,229.00 L416.50,232.60" fill="none" stroke="#8a8a8a" stroke-width="0.55" />
<text x="402.15" y="226.20" font-size="4.5" text-anchor="middle" fill="#222">0.0234</text>
<text x="387.80" y="331.30" font-size="6.0" font-weight="bold" text-anchor="middle" fill="#555">-</text>
<text x="416.50" y="331.60" font-size="6.8" font-weight="bold" text-anchor="middle" fill="#29a3bf">+</text>
<rect x="470.20" y="214.60" width="68.10" height="101.60" fill="none" stroke="#b4b4b4" stroke-width="0.7"/>
<line x1="470.20" y1="214.60" x2="470.20" y2="316.20" stroke="#8f8f8f" stroke-width="0.7" />
<line x1="468.40" y1="316.20" x2="470.20" y2="316.20" stroke="#666" stroke-width="0.5" />
<text x="467.70" y="318.10" font-size="5.3" font-weight="bold" text-anchor="end" fill="#111">10</text>
<line x1="468.40" y1="265.40" x2="470.20" y2="265.40" stroke="#666" stroke-width="0.5" />
<text x="467.70" y="267.30" font-size="5.3" font-weight="bold" text-anchor="end" fill="#111">100</text>
<line x1="468.40" y1="214.60" x2="470.20" y2="214.60" stroke="#666" stroke-width="0.5" />
<text x="467.70" y="216.50" font-size="5.3" font-weight="bold" text-anchor="end" fill="#111">1000</text>
<text x="452.60" y="265.30" font-size="6.1" font-weight="bold" text-anchor="middle" fill="#111" transform="rotate(-90 452.60 265.30)">%hCD19+</text>
<path d="M480.34,269.04 L483.26,269.04 L481.80,266.42 Z" fill="#000" stroke="none" stroke-width="0.7" />
<path d="M484.04,270.84 L486.96,270.84 L485.50,268.22 Z" fill="#000" stroke="none" stroke-width="0.7" />
<path d="M488.04,270.44 L490.96,270.44 L489.50,267.82 Z" fill="#000" stroke="none" stroke-width="0.7" />
<path d="M492.04,269.84 L494.96,269.84 L493.50,267.22 Z" fill="#000" stroke="none" stroke-width="0.7" />
<path d="M497.34,269.04 L500.26,269.04 L498.80,266.42 Z" fill="#000" stroke="none" stroke-width="0.7" />
<path d="M494.04,272.24 L496.96,272.24 L495.50,269.62 Z" fill="#000" stroke="none" stroke-width="0.7" />
<path d="M488.54,274.84 L491.46,274.84 L490.00,272.22 Z" fill="#000" stroke="none" stroke-width="0.7" />
<path d="M488.54,292.94 L491.46,292.94 L490.00,290.32 Z" fill="#000" stroke="none" stroke-width="0.7" />
<line x1="480.50" y1="273.40" x2="499.50" y2="273.40" stroke="#777" stroke-width="0.6" />
<line x1="490.00" y1="270.40" x2="490.00" y2="277.30" stroke="#777" stroke-width="0.6" />
<line x1="488.40" y1="270.40" x2="491.60" y2="270.40" stroke="#777" stroke-width="0.5" />
<line x1="488.40" y1="277.30" x2="491.60" y2="277.30" stroke="#777" stroke-width="0.5" />
<rect x="508.71" y="266.71" width="2.58" height="2.58" fill="#1697af" />
<rect x="510.71" y="267.81" width="2.58" height="2.58" fill="#1697af" />
<rect x="512.71" y="266.71" width="2.58" height="2.58" fill="#1697af" />
<rect x="514.71" y="267.81" width="2.58" height="2.58" fill="#1697af" />
<rect x="516.71" y="266.71" width="2.58" height="2.58" fill="#1697af" />
<rect x="518.71" y="267.81" width="2.58" height="2.58" fill="#1697af" />
<rect x="520.71" y="266.71" width="2.58" height="2.58" fill="#1697af" />
<rect x="522.71" y="267.81" width="2.58" height="2.58" fill="#1697af" />
<rect x="524.71" y="266.71" width="2.58" height="2.58" fill="#1697af" />
<rect x="526.71" y="267.81" width="2.58" height="2.58" fill="#1697af" />
<rect x="518.51" y="269.31" width="2.58" height="2.58" fill="#1697af" />
<line x1="510.00" y1="268.30" x2="529.00" y2="268.30" stroke="#1697af" stroke-width="0.6" />
<path d="M490.00,262.50 L490.00,245.00 L519.10,245.00 L519.10,262.50" fill="none" stroke="#8a8a8a" stroke-width="0.55" />
<text x="504.55" y="242.20" font-size="4.5" text-anchor="middle" fill="#222">0.0156</text>
<text x="490.00" y="331.30" font-size="6.0" font-weight="bold" text-anchor="middle" fill="#555">-</text>
<text x="519.10" y="331.60" font-size="6.8" font-weight="bold" text-anchor="middle" fill="#29a3bf">+</text>
<rect x="576.60" y="215.00" width="67.70" height="101.20" fill="none" stroke="#b4b4b4" stroke-width="0.7"/>
<line x1="576.60" y1="215.00" x2="576.60" y2="316.20" stroke="#8f8f8f" stroke-width="0.7" />
<line x1="574.80" y1="316.20" x2="576.60" y2="316.20" stroke="#666" stroke-width="0.5" />
<text x="574.10" y="318.10" font-size="5.3" font-weight="bold" text-anchor="end" fill="#111">0.1</text>
<line x1="574.80" y1="290.90" x2="576.60" y2="290.90" stroke="#666" stroke-width="0.5" />
<text x="574.10" y="292.80" font-size="5.3" font-weight="bold" text-anchor="end" fill="#111">1</text>
<line x1="574.80" y1="265.60" x2="576.60" y2="265.60" stroke="#666" stroke-width="0.5" />
<text x="574.10" y="267.50" font-size="5.3" font-weight="bold" text-anchor="end" fill="#111">10</text>
<line x1="574.80" y1="240.30" x2="576.60" y2="240.30" stroke="#666" stroke-width="0.5" />
<text x="574.10" y="242.20" font-size="5.3" font-weight="bold" text-anchor="end" fill="#111">100</text>
<line x1="574.80" y1="215.00" x2="576.60" y2="215.00" stroke="#666" stroke-width="0.5" />
<text x="574.10" y="216.90" font-size="5.3" font-weight="bold" text-anchor="end" fill="#111">1000</text>
<text x="558.50" y="265.30" font-size="6.1" font-weight="bold" text-anchor="middle" fill="#111" transform="rotate(-90 558.50 265.30)">%hCD33+</text>
<path d="M594.69,248.69 L597.71,248.69 L596.20,245.96 Z" fill="#000" stroke="none" stroke-width="0.7" />
<path d="M594.69,259.69 L597.71,259.69 L596.20,256.96 Z" fill="#000" stroke="none" stroke-width="0.7" />
<path d="M594.69,268.49 L597.71,268.49 L596.20,265.76 Z" fill="#000" stroke="none" stroke-width="0.7" />
<path d="M591.99,282.29 L595.01,282.29 L593.50,279.56 Z" fill="#000" stroke="none" stroke-width="0.7" />
<path d="M591.99,285.09 L595.01,285.09 L593.50,282.36 Z" fill="#000" stroke="none" stroke-width="0.7" />
<path d="M597.29,283.99 L600.31,283.99 L598.80,281.26 Z" fill="#000" stroke="none" stroke-width="0.7" />
<path d="M594.69,289.29 L597.71,289.29 L596.20,286.56 Z" fill="#000" stroke="none" stroke-width="0.7" />
<path d="M594.69,296.29 L597.71,296.29 L596.20,293.56 Z" fill="#000" stroke="none" stroke-width="0.7" />
<line x1="586.60" y1="265.50" x2="605.80" y2="265.50" stroke="#999" stroke-width="0.6" />
<line x1="596.20" y1="260.20" x2="596.20" y2="274.80" stroke="#999" stroke-width="0.6" />
<line x1="594.60" y1="260.20" x2="597.80" y2="260.20" stroke="#999" stroke-width="0.5" />
<line x1="594.60" y1="274.80" x2="597.80" y2="274.80" stroke="#999" stroke-width="0.5" />
<rect x="615.20" y="273.80" width="2.80" height="2.80" fill="#1697af" />
<rect x="620.90" y="275.40" width="2.80" height="2.80" fill="#1697af" />
<rect x="626.40" y="273.00" width="2.80" height="2.80" fill="#1697af" />
<rect x="623.60" y="279.80" width="2.80" height="2.80" fill="#1697af" />
<rect x="620.90" y="283.20" width="2.80" height="2.80" fill="#1697af" />
<rect x="615.20" y="283.80" width="2.80" height="2.80" fill="#1697af" />
<rect x="626.40" y="285.00" width="2.80" height="2.80" fill="#1697af" />
<rect x="632.10" y="285.00" width="2.80" height="2.80" fill="#1697af" />
<rect x="615.20" y="287.50" width="2.80" height="2.80" fill="#1697af" />
<line x1="615.20" y1="280.80" x2="634.50" y2="280.80" stroke="#aaa" stroke-width="0.6" />
<path d="M596.20,243.60 L596.20,239.50 L625.00,239.50 L625.00,270.00" fill="none" stroke="#8a8a8a" stroke-width="0.55" />
<text x="610.60" y="236.70" font-size="4.5" text-anchor="middle" fill="#222">0.3358</text>
<text x="596.20" y="331.30" font-size="6.0" font-weight="bold" text-anchor="middle" fill="#555">-</text>
<text x="625.00" y="331.60" font-size="6.8" font-weight="bold" text-anchor="middle" fill="#29a3bf">+</text>
<text x="3.00" y="364.80" font-size="14.2" font-weight="bold" fill="#000">d</text>
<rect x="23.50" y="352.00" width="204.20" height="16.80" fill="#eceff4" />
<text x="125.60" y="363.60" font-size="9.2" text-anchor="middle" fill="#1a1a1a">Limit Dilution Analysis (LDA) Table</text>
<rect x="23.50" y="386.70" width="202.50" height="15.30" fill="#e6e7ec" />
<rect x="23.50" y="402.00" width="35.00" height="94.10" fill="#e9eaee" />
<rect x="58.50" y="402.00" width="6.80" height="94.10" fill="#f1f2f4" />
<line x1="23.50" y1="386.70" x2="226.00" y2="386.70" stroke="#555" stroke-width="0.9" />
<line x1="23.50" y1="402.00" x2="226.00" y2="402.00" stroke="#555" stroke-width="0.9" />
<line x1="65.30" y1="417.70" x2="226.00" y2="417.70" stroke="#666" stroke-width="0.9" />
<line x1="65.30" y1="433.30" x2="226.00" y2="433.30" stroke="#666" stroke-width="0.9" />
<line x1="65.30" y1="449.10" x2="226.00" y2="449.10" stroke="#666" stroke-width="0.9" />
<line x1="65.30" y1="464.50" x2="226.00" y2="464.50" stroke="#666" stroke-width="0.9" />
<line x1="23.50" y1="479.90" x2="226.00" y2="479.90" stroke="#666" stroke-width="0.9" />
<line x1="23.50" y1="496.10" x2="226.00" y2="496.10" stroke="#666" stroke-width="0.9" />
<text x="42.30" y="396.20" font-size="5.6" font-weight="bold" text-anchor="middle" fill="#222">LDA</text>
<text x="92.30" y="392.70" font-size="5.6" font-weight="bold" text-anchor="middle" fill="#222">Injected</text>
<text x="92.30" y="400.40" font-size="5.6" font-weight="bold" text-anchor="middle" fill="#222">CD34+ cells</text>
<text x="145.90" y="392.70" font-size="5.6" font-weight="bold" text-anchor="middle" fill="#222">36H Palbociclib</text>
<text x="145.90" y="400.40" font-size="5.6" font-weight="bold" text-anchor="middle" fill="#222">exposition</text>
<text x="199.30" y="392.70" font-size="5.6" font-weight="bold" text-anchor="middle" fill="#222">Engrafted mice</text>
<text x="199.30" y="400.40" font-size="5.6" font-weight="bold" text-anchor="middle" fill="#222">(hCD45+&gt;0,1%)</text>
<rect x="119.10" y="410.15" width="53.40" height="6.95" fill="#c4e5e8" />
<text x="92.30" y="411.75" font-size="5.6" font-weight="bold" text-anchor="middle" fill="#222">25</text>
<text x="145.90" y="407.65" font-size="5.6" text-anchor="middle" fill="#555">-</text>
<text x="145.90" y="415.80" font-size="5.6" font-weight="bold" text-anchor="middle" fill="#222">+</text>
<text x="199.30" y="408.85" font-size="5.7" text-anchor="middle" fill="#222">0/10</text>
<text x="199.30" y="416.30" font-size="5.7" text-anchor="middle" fill="#6cc3d2">0/10</text>
<rect x="119.10" y="425.80" width="53.40" height="6.90" fill="#c4e5e8" />
<text x="92.30" y="427.40" font-size="5.6" font-weight="bold" text-anchor="middle" fill="#222">50</text>
<text x="145.90" y="423.30" font-size="5.6" text-anchor="middle" fill="#555">-</text>
<text x="145.90" y="431.40" font-size="5.6" font-weight="bold" text-anchor="middle" fill="#222">+</text>
<text x="199.30" y="424.50" font-size="5.7" text-anchor="middle" fill="#222">0/10</text>
<text x="199.30" y="431.90" font-size="5.7" text-anchor="middle" fill="#6cc3d2">0/10</text>
<rect x="119.10" y="441.50" width="53.40" height="7.00" fill="#c4e5e8" />
<text x="92.30" y="443.10" font-size="5.6" font-weight="bold" text-anchor="middle" fill="#222">100</text>
<text x="145.90" y="439.00" font-size="5.6" text-anchor="middle" fill="#555">-</text>
<text x="145.90" y="447.20" font-size="5.6" font-weight="bold" text-anchor="middle" fill="#222">+</text>
<text x="199.30" y="440.20" font-size="5.7" text-anchor="middle" fill="#222">0/10</text>
<text x="199.30" y="447.70" font-size="5.7" text-anchor="middle" fill="#2aa4c0">1/10</text>
<rect x="119.10" y="457.10" width="53.40" height="6.80" fill="#c4e5e8" />
<text x="92.30" y="458.70" font-size="5.6" font-weight="bold" text-anchor="middle" fill="#222">500</text>
<text x="145.90" y="454.60" font-size="5.6" text-anchor="middle" fill="#555">-</text>
<text x="145.90" y="462.60" font-size="5.6" font-weight="bold" text-anchor="middle" fill="#222">+</text>
<text x="199.30" y="455.80" font-size="5.7" text-anchor="middle" fill="#222">0/10</text>
<text x="199.30" y="463.10" font-size="5.7" text-anchor="middle" fill="#2aa4c0">1/10</text>
<rect x="119.10" y="472.50" width="53.40" height="6.80" fill="#c4e5e8" />
<text x="92.30" y="474.10" font-size="5.6" font-weight="bold" text-anchor="middle" fill="#222">3000</text>
<text x="145.90" y="470.00" font-size="5.6" text-anchor="middle" fill="#555">-</text>
<text x="145.90" y="478.00" font-size="5.6" font-weight="bold" text-anchor="middle" fill="#222">+</text>
<text x="199.30" y="471.20" font-size="5.7" font-weight="bold" text-anchor="middle" fill="#222">7/10</text>
<text x="199.30" y="478.50" font-size="5.7" font-weight="bold" text-anchor="middle" fill="#2aa4c0">10/10</text>
<rect x="119.10" y="488.30" width="53.40" height="7.20" fill="#c4e5e8" />
<text x="92.30" y="489.90" font-size="5.6" font-weight="bold" text-anchor="middle" fill="#222">3000</text>
<text x="145.90" y="485.80" font-size="5.6" text-anchor="middle" fill="#555">-</text>
<text x="145.90" y="494.20" font-size="5.6" font-weight="bold" text-anchor="middle" fill="#222">+</text>
<text x="199.30" y="487.00" font-size="5.7" font-weight="bold" text-anchor="middle" fill="#222">2/10</text>
<text x="199.30" y="494.70" font-size="5.7" font-weight="bold" text-anchor="middle" fill="#3aa8c4">4/10</text>
<text x="40.90" y="439.80" font-size="5.6" font-weight="bold" text-anchor="middle" fill="#222">Primary</text>
<text x="40.90" y="446.80" font-size="5.6" font-weight="bold" text-anchor="middle" fill="#222">mice</text>
<text x="61.40" y="443.30" font-size="5.6" font-weight="bold" text-anchor="middle" fill="#222">IV</text>
<text x="40.90" y="486.80" font-size="5.6" font-weight="bold" text-anchor="middle" fill="#222">Secondary</text>
<text x="40.90" y="494.00" font-size="5.6" font-weight="bold" text-anchor="middle" fill="#222">mice</text>
<text x="61.40" y="490.00" font-size="5.6" font-weight="bold" text-anchor="middle" fill="#222">IV</text>
<text x="264.00" y="363.80" font-size="14.2" font-weight="bold" fill="#000">e</text>
<rect x="285.00" y="351.10" width="136.60" height="17.50" fill="#eceff4" />
<text x="353.30" y="363.05" font-size="9" text-anchor="middle" fill="#1a1a1a">Phenotype</text>
<rect x="295.20" y="381.50" width="8.00" height="4.80" fill="#d8d8d8" />
<text x="307.50" y="386.00" font-size="6.3" fill="#222">CD90-/CD133-</text>
<rect x="357.00" y="381.50" width="8.00" height="4.80" fill="#8e8e8e" />
<text x="369.80" y="386.00" font-size="6.3" fill="#222">CD90+/CD133-</text>
<rect x="295.20" y="393.60" width="8.00" height="4.80" fill="#cfdcef" />
<text x="307.50" y="398.10" font-size="6.3" fill="#222">CD90-/CD133+</text>
<rect x="357.00" y="393.60" width="8.00" height="4.80" fill="#84a5d6" />
<text x="369.80" y="398.10" font-size="6.3" fill="#222">CD90+/CD133+</text>
<line x1="306.00" y1="426.00" x2="306.00" y2="496.60" stroke="#8a8a8a" stroke-width="0.7" />
<line x1="306.00" y1="496.60" x2="412.00" y2="496.60" stroke="#9a9a9a" stroke-width="0.8" />
<line x1="304.00" y1="496.60" x2="306.00" y2="496.60" stroke="#444" stroke-width="0.5" />
<text x="302.10" y="498.60" font-size="5.8" font-weight="bold" text-anchor="end" fill="#111">0</text>
<line x1="304.90" y1="489.78" x2="306.00" y2="489.78" stroke="#444" stroke-width="0.4" />
<line x1="304.00" y1="482.96" x2="306.00" y2="482.96" stroke="#444" stroke-width="0.5" />
<text x="302.10" y="484.96" font-size="5.8" font-weight="bold" text-anchor="end" fill="#111">20</text>
<line x1="304.90" y1="476.14" x2="306.00" y2="476.14" stroke="#444" stroke-width="0.4" />
<line x1="304.00" y1="469.32" x2="306.00" y2="469.32" stroke="#444" stroke-width="0.5" />
<text x="302.10" y="471.32" font-size="5.8" font-weight="bold" text-anchor="end" fill="#111">40</text>
<line x1="304.90" y1="462.50" x2="306.00" y2="462.50" stroke="#444" stroke-width="0.4" />
<line x1="304.00" y1="455.68" x2="306.00" y2="455.68" stroke="#444" stroke-width="0.5" />
<text x="302.10" y="457.68" font-size="5.8" font-weight="bold" text-anchor="end" fill="#111">60</text>
<line x1="304.90" y1="448.86" x2="306.00" y2="448.86" stroke="#444" stroke-width="0.4" />
<line x1="304.00" y1="442.04" x2="306.00" y2="442.04" stroke="#444" stroke-width="0.5" />
<text x="302.10" y="444.04" font-size="5.8" font-weight="bold" text-anchor="end" fill="#111">80</text>
<line x1="304.90" y1="435.22" x2="306.00" y2="435.22" stroke="#444" stroke-width="0.4" />
<line x1="304.00" y1="428.40" x2="306.00" y2="428.40" stroke="#444" stroke-width="0.5" />
<text x="302.10" y="430.40" font-size="5.8" font-weight="bold" text-anchor="end" fill="#111">100</text>
<rect x="321.00" y="428.40" width="15.00" height="8.18" fill="#84a5d6" />
<rect x="321.00" y="436.58" width="15.00" height="53.88" fill="#cfdcef" />
<rect x="321.00" y="490.46" width="15.00" height="6.14" fill="#d8d8d8" />
<line x1="328.50" y1="489.23" x2="328.50" y2="491.69" stroke="#666" stroke-width="0.5" />
<line x1="327.00" y1="489.23" x2="330.00" y2="489.23" stroke="#666" stroke-width="0.5" />
<line x1="327.00" y1="491.69" x2="330.00" y2="491.69" stroke="#666" stroke-width="0.5" />
<line x1="328.50" y1="434.54" x2="328.50" y2="438.63" stroke="#666" stroke-width="0.5" />
<line x1="327.00" y1="434.54" x2="330.00" y2="434.54" stroke="#666" stroke-width="0.5" />
<line x1="327.00" y1="438.63" x2="330.00" y2="438.63" stroke="#666" stroke-width="0.5" />
<line x1="328.50" y1="426.35" x2="328.50" y2="430.45" stroke="#666" stroke-width="0.5" />
<line x1="327.00" y1="426.35" x2="330.00" y2="426.35" stroke="#666" stroke-width="0.5" />
<line x1="327.00" y1="430.45" x2="330.00" y2="430.45" stroke="#666" stroke-width="0.5" />
<rect x="351.00" y="428.40" width="15.60" height="8.53" fill="#84a5d6" />
<rect x="351.00" y="436.92" width="15.60" height="52.17" fill="#cfdcef" />
<rect x="351.00" y="489.10" width="15.60" height="7.50" fill="#d8d8d8" />
<line x1="358.80" y1="487.87" x2="358.80" y2="490.33" stroke="#666" stroke-width="0.5" />
<line x1="357.30" y1="487.87" x2="360.30" y2="487.87" stroke="#666" stroke-width="0.5" />
<line x1="357.30" y1="490.33" x2="360.30" y2="490.33" stroke="#666" stroke-width="0.5" />
<line x1="358.80" y1="434.88" x2="358.80" y2="438.97" stroke="#666" stroke-width="0.5" />
<line x1="357.30" y1="434.88" x2="360.30" y2="434.88" stroke="#666" stroke-width="0.5" />
<line x1="357.30" y1="438.97" x2="360.30" y2="438.97" stroke="#666" stroke-width="0.5" />
<line x1="358.80" y1="426.35" x2="358.80" y2="430.45" stroke="#666" stroke-width="0.5" />
<line x1="357.30" y1="426.35" x2="360.30" y2="426.35" stroke="#666" stroke-width="0.5" />
<line x1="357.30" y1="430.45" x2="360.30" y2="430.45" stroke="#666" stroke-width="0.5" />
<rect x="381.40" y="428.40" width="15.20" height="17.73" fill="#84a5d6" />
<rect x="381.40" y="446.13" width="15.20" height="42.28" fill="#cfdcef" />
<rect x="381.40" y="488.42" width="15.20" height="8.18" fill="#d8d8d8" />
<line x1="389.00" y1="487.19" x2="389.00" y2="489.64" stroke="#666" stroke-width="0.5" />
<line x1="387.50" y1="487.19" x2="390.50" y2="487.19" stroke="#666" stroke-width="0.5" />
<line x1="387.50" y1="489.64" x2="390.50" y2="489.64" stroke="#666" stroke-width="0.5" />
<line x1="389.00" y1="444.09" x2="389.00" y2="448.18" stroke="#666" stroke-width="0.5" />
<line x1="387.50" y1="444.09" x2="390.50" y2="444.09" stroke="#666" stroke-width="0.5" />
<line x1="387.50" y1="448.18" x2="390.50" y2="448.18" stroke="#666" stroke-width="0.5" />
<line x1="389.00" y1="426.35" x2="389.00" y2="430.45" stroke="#666" stroke-width="0.5" />
<line x1="387.50" y1="426.35" x2="390.50" y2="426.35" stroke="#666" stroke-width="0.5" />
<line x1="387.50" y1="430.45" x2="390.50" y2="430.45" stroke="#666" stroke-width="0.5" />
<line x1="321.00" y1="421.50" x2="336.00" y2="421.50" stroke="#222" stroke-width="0.9" />
<line x1="351.00" y1="421.50" x2="396.60" y2="421.50" stroke="#222" stroke-width="0.9" />
<text x="328.50" y="418.60" font-size="6.4" font-weight="bold" text-anchor="middle" fill="#111">H0</text>
<text x="373.80" y="418.60" font-size="6.4" font-weight="bold" text-anchor="middle" fill="#111">H36</text>
<text x="274.00" y="459.30" font-size="7.45" font-weight="bold" text-anchor="middle" fill="#111" transform="rotate(-90 274.00 459.30)">% of cells among</text>
<text x="282.20" y="459.30" font-size="7.45" font-weight="bold" text-anchor="middle" fill="#111" transform="rotate(-90 282.20 459.30)">CD34+/CD38low</text>
<text x="257.80" y="510.40" font-size="6.3" font-weight="bold" fill="#29a3bf">Palbociclib 1μM</text>
<text x="328.80" y="510.40" font-size="6" font-weight="bold" text-anchor="middle" fill="#555">-</text>
<text x="359.00" y="510.40" font-size="6" font-weight="bold" text-anchor="middle" fill="#555">-</text>
<text x="389.00" y="510.30" font-size="6.8" font-weight="bold" text-anchor="middle" fill="#29a3bf">+</text>
<text x="433.90" y="362.60" font-size="14.2" font-weight="bold" fill="#000">f</text>
<rect x="449.80" y="349.10" width="235.20" height="17.30" fill="#eceff4" />
<text x="567.20" y="360.50" font-size="9.15" text-anchor="middle" fill="#1a1a1a">Hematopoietic stemness gene expression (RTqPCR)</text>
<rect x="484.40" y="371.50" width="8.20" height="3.80" fill="#d6d6d6" />
<text x="497.00" y="375.00" font-size="6.3" fill="#222">H0</text>
<rect x="524.60" y="371.50" width="8.20" height="3.80" fill="#7f7f7f" />
<text x="537.20" y="375.00" font-size="6.3" fill="#222">H36</text>
<rect x="568.60" y="371.50" width="8.20" height="3.80" fill="#1697af" />
<text x="581.20" y="375.00" font-size="6.3" fill="#222">H36 + Palbociclib 1μM</text>
<line x1="471.30" y1="415.30" x2="471.30" y2="496.00" stroke="#8a8a8a" stroke-width="0.6" />
<line x1="471.30" y1="496.00" x2="661.60" y2="496.00" stroke="#b0b0b0" stroke-width="0.9" />
<line x1="469.30" y1="496.00" x2="471.30" y2="496.00" stroke="#555" stroke-width="0.5" />
<text x="468.30" y="498.10" font-size="5.8" font-weight="bold" text-anchor="end" fill="#111">0</text>
<line x1="469.30" y1="478.10" x2="471.30" y2="478.10" stroke="#555" stroke-width="0.5" />
<text x="468.30" y="480.20" font-size="5.8" font-weight="bold" text-anchor="end" fill="#111">1</text>
<line x1="469.30" y1="460.20" x2="471.30" y2="460.20" stroke="#555" stroke-width="0.5" />
<text x="468.30" y="462.30" font-size="5.8" font-weight="bold" text-anchor="end" fill="#111">2</text>
<line x1="469.30" y1="442.30" x2="471.30" y2="442.30" stroke="#555" stroke-width="0.5" />
<text x="468.30" y="444.40" font-size="5.8" font-weight="bold" text-anchor="end" fill="#111">3</text>
<line x1="469.30" y1="424.40" x2="471.30" y2="424.40" stroke="#555" stroke-width="0.5" />
<text x="468.30" y="426.50" font-size="5.8" font-weight="bold" text-anchor="end" fill="#111">4</text>
<line x1="470.20" y1="487.05" x2="471.30" y2="487.05" stroke="#555" stroke-width="0.4" />
<line x1="470.20" y1="469.15" x2="471.30" y2="469.15" stroke="#555" stroke-width="0.4" />
<line x1="470.20" y1="451.25" x2="471.30" y2="451.25" stroke="#555" stroke-width="0.4" />
<line x1="470.20" y1="433.35" x2="471.30" y2="433.35" stroke="#555" stroke-width="0.4" />
<line x1="470.20" y1="415.45" x2="471.30" y2="415.45" stroke="#555" stroke-width="0.4" />
<rect x="476.20" y="478.10" width="9.20" height="17.90" fill="#d6d6d6" />
<circle cx="478.00" cy="478.10" r="0.75" fill="#111" stroke="none" stroke-width="0.7" />
<circle cx="480.80" cy="478.10" r="0.75" fill="#111" stroke="none" stroke-width="0.7" />
<circle cx="483.60" cy="478.10" r="0.75" fill="#111" stroke="none" stroke-width="0.7" />
<rect x="489.10" y="469.51" width="9.20" height="26.49" fill="#7f7f7f" />
<line x1="493.70" y1="479.35" x2="493.70" y2="459.66" stroke="#333" stroke-width="0.5" />
<line x1="492.70" y1="459.66" x2="494.70" y2="459.66" stroke="#333" stroke-width="0.5" />
<circle cx="494.30" cy="480.79" r="0.80" fill="#111" stroke="none" stroke-width="0.7" />
<circle cx="493.10" cy="467.36" r="0.80" fill="#111" stroke="none" stroke-width="0.7" />
<circle cx="494.30" cy="466.47" r="0.80" fill="#111" stroke="none" stroke-width="0.7" />
<rect x="502.40" y="452.50" width="9.20" height="43.50" fill="#1697af" />
<line x1="507.00" y1="466.46" x2="507.00" y2="438.54" stroke="#333" stroke-width="0.5" />
<line x1="506.00" y1="438.54" x2="508.00" y2="438.54" stroke="#333" stroke-width="0.5" />
<circle cx="507.60" cy="468.25" r="0.80" fill="#111" stroke="none" stroke-width="0.7" />
<circle cx="506.40" cy="447.67" r="0.80" fill="#111" stroke="none" stroke-width="0.7" />
<circle cx="507.60" cy="441.41" r="0.80" fill="#111" stroke="none" stroke-width="0.7" />
<text x="493.70" y="505.50" font-size="6.5" text-anchor="middle" fill="#222">CXCR4</text>
<path d="M480.80,421.50 L480.80,393.40 L507.00,393.40 L507.00,399.40" fill="none" stroke="#8f8f8f" stroke-width="0.55" />
<text x="493.90" y="390.50" font-size="4.8" text-anchor="middle" fill="#222">0.0042</text>
<path d="M493.70,421.50 L493.70,414.00 L507.00,414.00 L507.00,436.80" fill="none" stroke="#8f8f8f" stroke-width="0.55" />
<text x="500.35" y="411.10" font-size="4.8" text-anchor="middle" fill="#222">0.0658</text>
<path d="M480.80,466.60 L480.80,434.00 L493.70,434.00 L493.70,459.30" fill="none" stroke="#8f8f8f" stroke-width="0.55" />
<text x="487.25" y="431.10" font-size="4.8" text-anchor="middle" fill="#222">0.4593</text>
<rect x="524.80" y="478.10" width="9.20" height="17.90" fill="#d6d6d6" />
<circle cx="526.60" cy="478.10" r="0.75" fill="#111" stroke="none" stroke-width="0.7" />
<circle cx="529.40" cy="478.10" r="0.75" fill="#111" stroke="none" stroke-width="0.7" />
<circle cx="532.20" cy="478.10" r="0.75" fill="#111" stroke="none" stroke-width="0.7" />
<rect x="537.70" y="477.56" width="9.20" height="18.44" fill="#7f7f7f" />
<line x1="542.30" y1="483.47" x2="542.30" y2="471.66" stroke="#333" stroke-width="0.5" />
<line x1="541.30" y1="471.66" x2="543.30" y2="471.66" stroke="#333" stroke-width="0.5" />
<circle cx="542.90" cy="479.89" r="0.80" fill="#111" stroke="none" stroke-width="0.7" />
<circle cx="541.70" cy="478.10" r="0.80" fill="#111" stroke="none" stroke-width="0.7" />
<circle cx="542.90" cy="472.73" r="0.80" fill="#111" stroke="none" stroke-width="0.7" />
<rect x="551.00" y="453.94" width="9.20" height="42.06" fill="#1697af" />
<line x1="555.60" y1="462.88" x2="555.60" y2="444.99" stroke="#333" stroke-width="0.5" />
<line x1="554.60" y1="444.99" x2="556.60" y2="444.99" stroke="#333" stroke-width="0.5" />
<circle cx="556.20" cy="463.78" r="0.80" fill="#111" stroke="none" stroke-width="0.7" />
<circle cx="555.00" cy="450.36" r="0.80" fill="#111" stroke="none" stroke-width="0.7" />
<circle cx="556.20" cy="447.67" r="0.80" fill="#111" stroke="none" stroke-width="0.7" />
<text x="542.30" y="505.50" font-size="6.5" text-anchor="middle" fill="#222">TAL1</text>
<path d="M529.40,421.50 L529.40,393.40 L555.60,393.40 L555.60,399.40" fill="none" stroke="#8f8f8f" stroke-width="0.55" />
<text x="542.50" y="390.50" font-size="4.8" text-anchor="middle" fill="#222">0.0067</text>
<path d="M542.30,421.50 L542.30,414.00 L555.60,414.00 L555.60,442.90" fill="none" stroke="#8f8f8f" stroke-width="0.55" />
<text x="548.95" y="411.10" font-size="4.8" text-anchor="middle" fill="#222">0.0079</text>
<path d="M529.40,466.60 L529.40,434.00 L542.30,434.00 L542.30,466.40" fill="none" stroke="#8f8f8f" stroke-width="0.55" />
<text x="535.85" y="431.10" font-size="4.8" text-anchor="middle" fill="#222">0.9974</text>
<rect x="572.80" y="478.10" width="9.20" height="17.90" fill="#d6d6d6" />
<circle cx="574.60" cy="478.10" r="0.75" fill="#111" stroke="none" stroke-width="0.7" />
<circle cx="577.40" cy="478.10" r="0.75" fill="#111" stroke="none" stroke-width="0.7" />
<circle cx="580.20" cy="478.10" r="0.75" fill="#111" stroke="none" stroke-width="0.7" />
<rect x="585.70" y="478.46" width="9.20" height="17.54" fill="#7f7f7f" />
<line x1="590.30" y1="483.83" x2="590.30" y2="473.09" stroke="#333" stroke-width="0.5" />
<line x1="589.30" y1="473.09" x2="591.30" y2="473.09" stroke="#333" stroke-width="0.5" />
<circle cx="590.90" cy="479.89" r="0.80" fill="#111" stroke="none" stroke-width="0.7" />
<circle cx="589.70" cy="478.46" r="0.80" fill="#111" stroke="none" stroke-width="0.7" />
<circle cx="590.90" cy="474.52" r="0.80" fill="#111" stroke="none" stroke-width="0.7" />
<rect x="599.00" y="479.53" width="9.20" height="16.47" fill="#1697af" />
<line x1="603.60" y1="481.32" x2="603.60" y2="477.74" stroke="#333" stroke-width="0.5" />
<line x1="602.60" y1="477.74" x2="604.60" y2="477.74" stroke="#333" stroke-width="0.5" />
<circle cx="604.20" cy="480.79" r="0.80" fill="#111" stroke="none" stroke-width="0.7" />
<circle cx="603.00" cy="478.46" r="0.80" fill="#111" stroke="none" stroke-width="0.7" />
<circle cx="604.20" cy="478.10" r="0.80" fill="#111" stroke="none" stroke-width="0.7" />
<text x="590.30" y="505.50" font-size="6.5" text-anchor="middle" fill="#222">BCL6</text>
<path d="M577.40,421.50 L577.40,393.40 L603.60,393.40 L603.60,399.40" fill="none" stroke="#8f8f8f" stroke-width="0.55" />
<text x="590.50" y="390.50" font-size="4.8" text-anchor="middle" fill="#222">0.9718</text>
<path d="M590.30,421.50 L590.30,414.00 L603.60,414.00 L603.60,467.00" fill="none" stroke="#8f8f8f" stroke-width="0.55" />
<text x="596.95" y="411.10" font-size="4.8" text-anchor="middle" fill="#222">0.9795</text>
<path d="M577.40,466.60 L577.40,434.00 L590.30,434.00 L590.30,467.00" fill="none" stroke="#8f8f8f" stroke-width="0.55" />
<text x="583.85" y="431.10" font-size="4.8" text-anchor="middle" fill="#222">0.9999</text>
<rect x="621.50" y="478.10" width="9.20" height="17.90" fill="#d6d6d6" />
<circle cx="623.30" cy="478.10" r="0.75" fill="#111" stroke="none" stroke-width="0.7" />
<circle cx="626.10" cy="478.10" r="0.75" fill="#111" stroke="none" stroke-width="0.7" />
<circle cx="628.90" cy="478.10" r="0.75" fill="#111" stroke="none" stroke-width="0.7" />
<rect x="634.40" y="461.99" width="9.20" height="34.01" fill="#7f7f7f" />
<line x1="639.00" y1="474.88" x2="639.00" y2="449.10" stroke="#333" stroke-width="0.5" />
<line x1="638.00" y1="449.10" x2="640.00" y2="449.10" stroke="#333" stroke-width="0.5" />
<circle cx="639.60" cy="472.73" r="0.80" fill="#111" stroke="none" stroke-width="0.7" />
<circle cx="638.40" cy="458.41" r="0.80" fill="#111" stroke="none" stroke-width="0.7" />
<circle cx="639.60" cy="449.46" r="0.80" fill="#111" stroke="none" stroke-width="0.7" />
<rect x="647.70" y="438.36" width="9.20" height="57.64" fill="#1697af" />
<line x1="652.30" y1="457.16" x2="652.30" y2="419.57" stroke="#333" stroke-width="0.5" />
<line x1="651.30" y1="419.57" x2="653.30" y2="419.57" stroke="#333" stroke-width="0.5" />
<circle cx="652.90" cy="458.77" r="0.80" fill="#111" stroke="none" stroke-width="0.7" />
<circle cx="651.70" cy="434.25" r="0.80" fill="#111" stroke="none" stroke-width="0.7" />
<circle cx="652.90" cy="428.88" r="0.80" fill="#111" stroke="none" stroke-width="0.7" />
<text x="639.00" y="505.50" font-size="6.5" text-anchor="middle" fill="#222">RUNX1c</text>
<path d="M626.10,421.50 L626.10,393.40 L652.30,393.40 L652.30,399.40" fill="none" stroke="#8f8f8f" stroke-width="0.55" />
<text x="639.20" y="390.50" font-size="4.8" text-anchor="middle" fill="#222">3.105e-005</text>
<path d="M639.00,421.50 L639.00,414.00 L652.30,414.00 L652.30,416.60" fill="none" stroke="#8f8f8f" stroke-width="0.55" />
<text x="645.65" y="411.10" font-size="4.8" text-anchor="middle" fill="#222">0.0078</text>
<path d="M626.10,466.60 L626.10,434.00 L639.00,434.00 L639.00,438.30" fill="none" stroke="#8f8f8f" stroke-width="0.55" />
<text x="632.55" y="431.10" font-size="4.8" text-anchor="middle" fill="#222">0.0807</text>
<text x="452.00" y="452.10" font-size="7.4" font-weight="bold" text-anchor="middle" fill="#111" transform="rotate(-90 452.00 452.10)">Relative expression</text>
<text x="3.00" y="542.60" font-size="14.2" font-weight="bold" fill="#000">g</text>
<rect x="23.50" y="528.90" width="204.20" height="17.70" fill="#eceff4" />
<text x="125.60" y="540.95" font-size="9.1" text-anchor="middle" fill="#1a1a1a">Editing efficiency</text>
<line x1="110.40" y1="569.00" x2="110.40" y2="659.40" stroke="#9a9a9a" stroke-width="0.6" />
<line x1="110.40" y1="659.40" x2="165.40" y2="659.40" stroke="#999" stroke-width="0.8" />
<line x1="108.40" y1="659.40" x2="110.40" y2="659.40" stroke="#444" stroke-width="0.5" />
<text x="107.20" y="661.20" font-size="4.9" font-weight="bold" text-anchor="end" fill="#111">0</text>
<line x1="109.30" y1="651.87" x2="110.40" y2="651.87" stroke="#444" stroke-width="0.4" />
<line x1="108.40" y1="644.33" x2="110.40" y2="644.33" stroke="#444" stroke-width="0.5" />
<text x="107.20" y="646.13" font-size="4.9" font-weight="bold" text-anchor="end" fill="#111">20</text>
<line x1="109.30" y1="636.80" x2="110.40" y2="636.80" stroke="#444" stroke-width="0.4" />
<line x1="108.40" y1="629.27" x2="110.40" y2="629.27" stroke="#444" stroke-width="0.5" />
<text x="107.20" y="631.07" font-size="4.9" font-weight="bold" text-anchor="end" fill="#111">40</text>
<line x1="109.30" y1="621.73" x2="110.40" y2="621.73" stroke="#444" stroke-width="0.4" />
<line x1="108.40" y1="614.20" x2="110.40" y2="614.20" stroke="#444" stroke-width="0.5" />
<text x="107.20" y="616.00" font-size="4.9" font-weight="bold" text-anchor="end" fill="#111">60</text>
<line x1="109.30" y1="606.67" x2="110.40" y2="606.67" stroke="#444" stroke-width="0.4" />
<line x1="108.40" y1="599.13" x2="110.40" y2="599.13" stroke="#444" stroke-width="0.5" />
<text x="107.20" y="600.93" font-size="4.9" font-weight="bold" text-anchor="end" fill="#111">80</text>
<line x1="109.30" y1="591.60" x2="110.40" y2="591.60" stroke="#444" stroke-width="0.4" />
<line x1="108.40" y1="584.07" x2="110.40" y2="584.07" stroke="#444" stroke-width="0.5" />
<text x="107.20" y="585.87" font-size="4.9" font-weight="bold" text-anchor="end" fill="#111">100</text>
<line x1="109.30" y1="576.53" x2="110.40" y2="576.53" stroke="#444" stroke-width="0.4" />
<line x1="108.40" y1="569.00" x2="110.40" y2="569.00" stroke="#444" stroke-width="0.5" />
<text x="107.20" y="570.80" font-size="4.9" font-weight="bold" text-anchor="end" fill="#111">120</text>
<rect x="118.00" y="584.07" width="15.50" height="69.31" fill="#8890d2" />
<rect x="118.00" y="653.37" width="15.50" height="6.03" fill="#d9d9d9" />
<line x1="125.75" y1="655.63" x2="125.75" y2="650.36" stroke="#555" stroke-width="0.5" />
<line x1="124.15" y1="655.63" x2="127.35" y2="655.63" stroke="#555" stroke-width="0.5" />
<line x1="124.15" y1="650.36" x2="127.35" y2="650.36" stroke="#555" stroke-width="0.5" />
<line x1="125.75" y1="586.33" x2="125.75" y2="581.81" stroke="#555" stroke-width="0.5" />
<line x1="124.15" y1="586.33" x2="127.35" y2="586.33" stroke="#555" stroke-width="0.5" />
<line x1="124.15" y1="581.81" x2="127.35" y2="581.81" stroke="#555" stroke-width="0.5" />
<rect x="143.00" y="584.07" width="15.70" height="57.25" fill="#8890d2" />
<rect x="143.00" y="641.32" width="15.70" height="18.08" fill="#d9d9d9" />
<line x1="150.85" y1="651.87" x2="150.85" y2="628.51" stroke="#555" stroke-width="0.5" />
<line x1="149.25" y1="651.87" x2="152.45" y2="651.87" stroke="#555" stroke-width="0.5" />
<line x1="149.25" y1="628.51" x2="152.45" y2="628.51" stroke="#555" stroke-width="0.5" />
<line x1="150.85" y1="595.37" x2="150.85" y2="572.01" stroke="#555" stroke-width="0.5" />
<line x1="149.25" y1="595.37" x2="152.45" y2="595.37" stroke="#555" stroke-width="0.5" />
<line x1="149.25" y1="572.01" x2="152.45" y2="572.01" stroke="#555" stroke-width="0.5" />
<rect x="176.00" y="567.70" width="7.00" height="3.60" fill="#d9d9d9" />
<rect x="176.00" y="576.20" width="7.00" height="3.60" fill="#8890d2" />
<text x="186.90" y="571.70" font-size="5.5" fill="#333">%WT</text>
<text x="186.90" y="580.20" font-size="5.5" fill="#333">%InDels</text>
<text x="91.30" y="613.20" font-size="7.2" font-weight="bold" text-anchor="middle" fill="#111" transform="rotate(-90 91.30 613.20)">%Editing efficiency</text>
<text x="44.80" y="673.70" font-size="6.2" font-weight="bold" fill="#111">V3cas9:sgABRAXAS2</text>
<text x="125.80" y="674.00" font-size="6.8" font-weight="bold" text-anchor="middle" fill="#111">+</text>
<text x="150.70" y="674.00" font-size="6.8" font-weight="bold" text-anchor="middle" fill="#111">+</text>
<text x="44.80" y="687.80" font-size="6.2" font-weight="bold" fill="#29a3bf">Palbociclib 1μM</text>
<text x="125.80" y="687.80" font-size="6.2" font-weight="bold" text-anchor="middle" fill="#555">-</text>
<text x="150.70" y="688.00" font-size="6.8" font-weight="bold" text-anchor="middle" fill="#29a3bf">+</text>
<text x="262.40" y="542.60" font-size="14.2" font-weight="bold" fill="#000">h</text>
<rect x="285.00" y="529.30" width="400.00" height="16.80" fill="#eceff4" />
<text x="484.50" y="540.90" font-size="9.1" text-anchor="middle" fill="#1a1a1a">Long-term engraftment (17 weeks): chimerism (hCD45+) in BM</text>
<text x="303.60" y="672.80" font-size="6.0" font-weight="bold" fill="#111">V3Cas9::sgABRAXAS2</text>
<text x="303.60" y="687.20" font-size="6.0" font-weight="bold" fill="#29a3bf">Palbociclib 1μM</text>
<rect x="366.70" y="557.50" width="69.60" height="101.70" fill="none" stroke="#b4b4b4" stroke-width="0.7"/>
<line x1="366.70" y1="557.50" x2="366.70" y2="659.20" stroke="#8f8f8f" stroke-width="0.7" />
<line x1="364.90" y1="659.20" x2="366.70" y2="659.20" stroke="#666" stroke-width="0.5" />
<text x="364.20" y="661.10" font-size="5.3" font-weight="bold" text-anchor="end" fill="#111">0.1</text>
<line x1="364.90" y1="633.78" x2="366.70" y2="633.78" stroke="#666" stroke-width="0.5" />
<text x="364.20" y="635.68" font-size="5.3" font-weight="bold" text-anchor="end" fill="#111">1</text>
<line x1="364.90" y1="608.35" x2="366.70" y2="608.35" stroke="#666" stroke-width="0.5" />
<text x="364.20" y="610.25" font-size="5.3" font-weight="bold" text-anchor="end" fill="#111">10</text>
<line x1="364.90" y1="582.92" x2="366.70" y2="582.92" stroke="#666" stroke-width="0.5" />
<text x="364.20" y="584.82" font-size="5.3" font-weight="bold" text-anchor="end" fill="#111">100</text>
<line x1="364.90" y1="557.50" x2="366.70" y2="557.50" stroke="#666" stroke-width="0.5" />
<text x="364.20" y="559.40" font-size="5.3" font-weight="bold" text-anchor="end" fill="#111">1000</text>
<text x="349.20" y="608.30" font-size="6.2" font-weight="bold" text-anchor="middle" fill="#111" transform="rotate(-90 349.20 608.30)">%hCD45+/mCD45+ chimerism</text>
<path d="M377.34,587.04 L380.26,587.04 L378.80,584.42 Z" fill="#a6a6a6" stroke="none" stroke-width="0.7" />
<path d="M382.74,585.74 L385.66,585.74 L384.20,583.12 Z" fill="#a6a6a6" stroke="none" stroke-width="0.7" />
<path d="M377.34,592.04 L380.26,592.04 L378.80,589.42 Z" fill="#a6a6a6" stroke="none" stroke-width="0.7" />
<path d="M382.74,589.94 L385.66,589.94 L384.20,587.32 Z" fill="#a6a6a6" stroke="none" stroke-width="0.7" />
<path d="M379.84,595.44 L382.76,595.44 L381.30,592.82 Z" fill="#a6a6a6" stroke="none" stroke-width="0.7" />
<path d="M380.24,604.54 L383.16,604.54 L381.70,601.92 Z" fill="#a6a6a6" stroke="none" stroke-width="0.7" />
<path d="M380.24,610.94 L383.16,610.94 L381.70,608.32 Z" fill="#a6a6a6" stroke="none" stroke-width="0.7" />
<path d="M377.74,634.04 L380.66,634.04 L379.20,631.42 Z" fill="#a6a6a6" stroke="none" stroke-width="0.7" />
<path d="M382.74,632.94 L385.66,632.94 L384.20,630.32 Z" fill="#a6a6a6" stroke="none" stroke-width="0.7" />
<line x1="374.30" y1="593.30" x2="388.30" y2="593.30" stroke="#bbb" stroke-width="0.6" />
<line x1="381.30" y1="589.50" x2="381.30" y2="597.50" stroke="#bbb" stroke-width="0.6" />
<line x1="379.70" y1="589.50" x2="382.90" y2="589.50" stroke="#bbb" stroke-width="0.5" />
<line x1="379.70" y1="597.50" x2="382.90" y2="597.50" stroke="#bbb" stroke-width="0.5" />
<path d="M397.85,588.70 L399.20,587.35 L400.55,588.70 L399.20,590.05 Z" fill="#000" stroke="none" stroke-width="0.7" />
<path d="M402.85,585.80 L404.20,584.45 L405.55,585.80 L404.20,587.15 Z" fill="#000" stroke="none" stroke-width="0.7" />
<path d="M402.85,590.00 L404.20,588.65 L405.55,590.00 L404.20,591.35 Z" fill="#000" stroke="none" stroke-width="0.7" />
<path d="M400.65,596.70 L402.00,595.35 L403.35,596.70 L402.00,598.05 Z" fill="#000" stroke="none" stroke-width="0.7" />
<path d="M397.85,611.30 L399.20,609.95 L400.55,611.30 L399.20,612.65 Z" fill="#000" stroke="none" stroke-width="0.7" />
<path d="M402.85,610.30 L404.20,608.95 L405.55,610.30 L404.20,611.65 Z" fill="#000" stroke="none" stroke-width="0.7" />
<path d="M400.65,627.00 L402.00,625.65 L403.35,627.00 L402.00,628.35 Z" fill="#000" stroke="none" stroke-width="0.7" />
<path d="M400.65,646.70 L402.00,645.35 L403.35,646.70 L402.00,648.05 Z" fill="#000" stroke="none" stroke-width="0.7" />
<path d="M397.85,651.30 L399.20,649.95 L400.55,651.30 L399.20,652.65 Z" fill="#000" stroke="none" stroke-width="0.7" />
<path d="M402.85,651.30 L404.20,649.95 L405.55,651.30 L404.20,652.65 Z" fill="#000" stroke="none" stroke-width="0.7" />
<line x1="395.20" y1="598.80" x2="408.80" y2="598.80" stroke="#bbb" stroke-width="0.6" />
<line x1="402.00" y1="595.80" x2="402.00" y2="604.20" stroke="#bbb" stroke-width="0.6" />
<line x1="400.40" y1="595.80" x2="403.60" y2="595.80" stroke="#bbb" stroke-width="0.5" />
<line x1="400.40" y1="604.20" x2="403.60" y2="604.20" stroke="#bbb" stroke-width="0.5" />
<rect x="412.10" y="583.60" width="2.80" height="2.80" fill="#1697af" />
<rect x="415.10" y="585.10" width="2.80" height="2.80" fill="#1697af" />
<rect x="418.10" y="584.40" width="2.80" height="2.80" fill="#1697af" />
<rect x="421.10" y="585.60" width="2.80" height="2.80" fill="#1697af" />
<rect x="424.10" y="584.10" width="2.80" height="2.80" fill="#1697af" />
<rect x="427.10" y="585.10" width="2.80" height="2.80" fill="#1697af" />
<rect x="429.80" y="584.60" width="2.80" height="2.80" fill="#1697af" />
<rect x="419.10" y="588.10" width="2.80" height="2.80" fill="#1697af" />
<rect x="421.10" y="592.80" width="2.80" height="2.80" fill="#1697af" />
<rect x="421.10" y="606.40" width="2.80" height="2.80" fill="#1697af" />
<rect x="421.10" y="626.40" width="2.80" height="2.80" fill="#1697af" />
<line x1="413.00" y1="589.20" x2="432.00" y2="589.20" stroke="#aaa" stroke-width="0.6" />
<path d="M381.30,569.00 L381.30,567.50 L422.50,567.50 L422.50,569.00" fill="none" stroke="#8a8a8a" stroke-width="0.55" />
<text x="401.90" y="564.70" font-size="4.4" text-anchor="middle" fill="#222">0.1855</text>
<path d="M381.30,579.00 L381.30,577.50 L401.80,577.50 L401.80,579.00" fill="none" stroke="#8a8a8a" stroke-width="0.55" />
<text x="391.55" y="574.70" font-size="4.4" text-anchor="middle" fill="#222">0.1844</text>
<path d="M402.60,579.00 L402.60,577.50 L422.50,577.50 L422.50,579.00" fill="none" stroke="#8a8a8a" stroke-width="0.55" />
<text x="412.55" y="574.70" font-size="4.4" text-anchor="middle" fill="#222">0.0181</text>
<rect x="470.30" y="557.50" width="68.70" height="101.70" fill="none" stroke="#b4b4b4" stroke-width="0.7"/>
<line x1="470.30" y1="557.50" x2="470.30" y2="659.20" stroke="#8f8f8f" stroke-width="0.7" />
<line x1="468.50" y1="659.20" x2="470.30" y2="659.20" stroke="#666" stroke-width="0.5" />
<text x="467.80" y="661.10" font-size="5.3" font-weight="bold" text-anchor="end" fill="#111">0.1</text>
<line x1="468.50" y1="633.78" x2="470.30" y2="633.78" stroke="#666" stroke-width="0.5" />
<text x="467.80" y="635.68" font-size="5.3" font-weight="bold" text-anchor="end" fill="#111">1</text>
<line x1="468.50" y1="608.35" x2="470.30" y2="608.35" stroke="#666" stroke-width="0.5" />
<text x="467.80" y="610.25" font-size="5.3" font-weight="bold" text-anchor="end" fill="#111">10</text>
<line x1="468.50" y1="582.92" x2="470.30" y2="582.92" stroke="#666" stroke-width="0.5" />
<text x="467.80" y="584.82" font-size="5.3" font-weight="bold" text-anchor="end" fill="#111">100</text>
<line x1="468.50" y1="557.50" x2="470.30" y2="557.50" stroke="#666" stroke-width="0.5" />
<text x="467.80" y="559.40" font-size="5.3" font-weight="bold" text-anchor="end" fill="#111">1000</text>
<text x="451.60" y="607.80" font-size="6.1" font-weight="bold" text-anchor="middle" fill="#111" transform="rotate(-90 451.60 607.80)">%hCD33+</text>
<path d="M483.24,612.04 L486.16,612.04 L484.70,609.42 Z" fill="#a6a6a6" stroke="none" stroke-width="0.7" />
<path d="M488.54,609.54 L491.46,609.54 L490.00,606.92 Z" fill="#a6a6a6" stroke="none" stroke-width="0.7" />
<path d="M483.24,615.94 L486.16,615.94 L484.70,613.32 Z" fill="#a6a6a6" stroke="none" stroke-width="0.7" />
<path d="M483.24,619.94 L486.16,619.94 L484.70,617.32 Z" fill="#a6a6a6" stroke="none" stroke-width="0.7" />
<path d="M483.24,624.54 L486.16,624.54 L484.70,621.92 Z" fill="#a6a6a6" stroke="none" stroke-width="0.7" />
<path d="M477.74,627.04 L480.66,627.04 L479.20,624.42 Z" fill="#a6a6a6" stroke="none" stroke-width="0.7" />
<path d="M488.54,627.04 L491.46,627.04 L490.00,624.42 Z" fill="#a6a6a6" stroke="none" stroke-width="0.7" />
<path d="M483.24,629.54 L486.16,629.54 L484.70,626.92 Z" fill="#a6a6a6" stroke="none" stroke-width="0.7" />
<path d="M483.24,633.44 L486.16,633.44 L484.70,630.82 Z" fill="#a6a6a6" stroke="none" stroke-width="0.7" />
<path d="M488.54,618.74 L491.46,618.74 L490.00,616.12 Z" fill="#a6a6a6" stroke="none" stroke-width="0.7" />
<line x1="477.50" y1="618.00" x2="491.90" y2="618.00" stroke="#bbb" stroke-width="0.6" />
<line x1="484.70" y1="615.50" x2="484.70" y2="620.50" stroke="#bbb" stroke-width="0.6" />
<line x1="483.10" y1="615.50" x2="486.30" y2="615.50" stroke="#bbb" stroke-width="0.5" />
<line x1="483.10" y1="620.50" x2="486.30" y2="620.50" stroke="#bbb" stroke-width="0.5" />
<circle cx="505.00" cy="583.30" r="1.30" fill="#000" stroke="none" stroke-width="0.7" />
<circle cx="505.00" cy="596.20" r="1.30" fill="#000" stroke="none" stroke-width="0.7" />
<circle cx="505.00" cy="604.70" r="1.30" fill="#000" stroke="none" stroke-width="0.7" />
<circle cx="505.00" cy="613.00" r="1.30" fill="#000" stroke="none" stroke-width="0.7" />
<circle cx="505.00" cy="628.30" r="1.30" fill="#000" stroke="none" stroke-width="0.7" />
<circle cx="505.00" cy="635.00" r="1.30" fill="#000" stroke="none" stroke-width="0.7" />
<path d="M501.15,618.30 L502.50,616.95 L503.85,618.30 L502.50,619.65 Z" fill="#000" stroke="none" stroke-width="0.7" />
<path d="M506.65,616.30 L508.00,614.95 L509.35,616.30 L508.00,617.65 Z" fill="#000" stroke="none" stroke-width="0.7" />
<path d="M501.15,622.20 L502.50,620.85 L503.85,622.20 L502.50,623.55 Z" fill="#000" stroke="none" stroke-width="0.7" />
<path d="M506.65,621.30 L508.00,619.95 L509.35,621.30 L508.00,622.65 Z" fill="#000" stroke="none" stroke-width="0.7" />
<line x1="498.00" y1="603.00" x2="512.00" y2="603.00" stroke="#bbb" stroke-width="0.6" />
<line x1="505.00" y1="598.00" x2="505.00" y2="612.00" stroke="#bbb" stroke-width="0.6" />
<line x1="503.40" y1="598.00" x2="506.60" y2="598.00" stroke="#bbb" stroke-width="0.5" />
<line x1="503.40" y1="612.00" x2="506.60" y2="612.00" stroke="#bbb" stroke-width="0.5" />
<rect x="524.04" y="594.84" width="2.91" height="2.91" fill="#1697af" />
<rect x="524.04" y="614.04" width="2.91" height="2.91" fill="#1697af" />
<rect x="518.54" y="614.34" width="2.91" height="2.91" fill="#1697af" />
<rect x="518.54" y="618.24" width="2.91" height="2.91" fill="#1697af" />
<rect x="529.34" y="617.24" width="2.91" height="2.91" fill="#1697af" />
<rect x="524.04" y="621.84" width="2.91" height="2.91" fill="#1697af" />
<rect x="518.54" y="621.84" width="2.91" height="2.91" fill="#1697af" />
<rect x="529.34" y="621.04" width="2.91" height="2.91" fill="#1697af" />
<rect x="518.54" y="625.74" width="2.91" height="2.91" fill="#1697af" />
<rect x="529.34" y="623.84" width="2.91" height="2.91" fill="#1697af" />
<line x1="518.60" y1="614.20" x2="532.40" y2="614.20" stroke="#aaa" stroke-width="0.6" />
<line x1="525.50" y1="609.50" x2="525.50" y2="619.00" stroke="#aaa" stroke-width="0.6" />
<line x1="523.90" y1="609.50" x2="527.10" y2="609.50" stroke="#aaa" stroke-width="0.5" />
<line x1="523.90" y1="619.00" x2="527.10" y2="619.00" stroke="#aaa" stroke-width="0.5" />
<path d="M484.50,571.00 L484.50,569.50 L526.20,569.50 L526.20,571.00" fill="none" stroke="#8a8a8a" stroke-width="0.55" />
<text x="505.35" y="566.70" font-size="4.4" text-anchor="middle" fill="#222">0.7258</text>
<path d="M484.50,581.20 L484.50,579.70 L504.80,579.70 L504.80,581.20" fill="none" stroke="#8a8a8a" stroke-width="0.55" />
<text x="494.65" y="576.90" font-size="4.4" text-anchor="middle" fill="#222">0.3621</text>
<path d="M505.60,581.20 L505.60,579.70 L526.20,579.70 L526.20,581.20" fill="none" stroke="#8a8a8a" stroke-width="0.55" />
<text x="515.90" y="576.90" font-size="4.4" text-anchor="middle" fill="#222">0.4486</text>
<rect x="575.80" y="557.50" width="69.50" height="101.70" fill="none" stroke="#b4b4b4" stroke-width="0.7"/>
<line x1="575.80" y1="557.50" x2="575.80" y2="659.20" stroke="#8f8f8f" stroke-width="0.7" />
<line x1="574.00" y1="659.20" x2="575.80" y2="659.20" stroke="#666" stroke-width="0.5" />
<text x="573.30" y="661.10" font-size="5.3" font-weight="bold" text-anchor="end" fill="#111">10</text>
<line x1="574.00" y1="608.35" x2="575.80" y2="608.35" stroke="#666" stroke-width="0.5" />
<text x="573.30" y="610.25" font-size="5.3" font-weight="bold" text-anchor="end" fill="#111">100</text>
<line x1="574.00" y1="557.50" x2="575.80" y2="557.50" stroke="#666" stroke-width="0.5" />
<text x="573.30" y="559.40" font-size="5.3" font-weight="bold" text-anchor="end" fill="#111">1000</text>
<text x="557.40" y="608.00" font-size="6.1" font-weight="bold" text-anchor="middle" fill="#111" transform="rotate(-90 557.40 608.00)">%hCD19+</text>
<path d="M583.66,612.64 L586.34,612.64 L585.00,610.22 Z" fill="#a6a6a6" stroke="none" stroke-width="0.7" />
<path d="M586.16,613.44 L588.84,613.44 L587.50,611.02 Z" fill="#a6a6a6" stroke="none" stroke-width="0.7" />
<path d="M588.66,612.14 L591.34,612.14 L590.00,609.72 Z" fill="#a6a6a6" stroke="none" stroke-width="0.7" />
<path d="M591.16,613.94 L593.84,613.94 L592.50,611.52 Z" fill="#a6a6a6" stroke="none" stroke-width="0.7" />
<path d="M593.66,612.84 L596.34,612.84 L595.00,610.42 Z" fill="#a6a6a6" stroke="none" stroke-width="0.7" />
<path d="M588.96,619.44 L591.64,619.44 L590.30,617.02 Z" fill="#a6a6a6" stroke="none" stroke-width="0.7" />
<path d="M603.70,611.50 L605.00,610.20 L606.30,611.50 L605.00,612.80 Z" fill="#000" stroke="none" stroke-width="0.7" />
<path d="M607.20,609.50 L608.50,608.20 L609.80,609.50 L608.50,610.80 Z" fill="#000" stroke="none" stroke-width="0.7" />
<path d="M610.20,609.20 L611.50,607.90 L612.80,609.20 L611.50,610.50 Z" fill="#000" stroke="none" stroke-width="0.7" />
<path d="M613.20,611.00 L614.50,609.70 L615.80,611.00 L614.50,612.30 Z" fill="#000" stroke="none" stroke-width="0.7" />
<path d="M615.70,611.30 L617.00,610.00 L618.30,611.30 L617.00,612.60 Z" fill="#000" stroke="none" stroke-width="0.7" />
<path d="M606.70,614.50 L608.00,613.20 L609.30,614.50 L608.00,615.80 Z" fill="#000" stroke="none" stroke-width="0.7" />
<path d="M610.70,615.00 L612.00,613.70 L613.30,615.00 L612.00,616.30 Z" fill="#000" stroke="none" stroke-width="0.7" />
<circle cx="611.30" cy="630.00" r="1.30" fill="#000" stroke="none" stroke-width="0.7" />
<line x1="604.30" y1="616.30" x2="618.30" y2="616.30" stroke="#bbb" stroke-width="0.6" />
<line x1="611.30" y1="614.00" x2="611.30" y2="619.00" stroke="#bbb" stroke-width="0.6" />
<line x1="609.70" y1="614.00" x2="612.90" y2="614.00" stroke="#bbb" stroke-width="0.5" />
<line x1="609.70" y1="619.00" x2="612.90" y2="619.00" stroke="#bbb" stroke-width="0.5" />
<rect x="624.10" y="610.60" width="2.80" height="2.80" fill="#1697af" />
<rect x="626.60" y="609.60" width="2.80" height="2.80" fill="#1697af" />
<rect x="629.10" y="610.90" width="2.80" height="2.80" fill="#1697af" />
<rect x="631.60" y="610.10" width="2.80" height="2.80" fill="#1697af" />
<rect x="634.10" y="610.60" width="2.80" height="2.80" fill="#1697af" />
<rect x="636.10" y="609.90" width="2.80" height="2.80" fill="#1697af" />
<rect x="628.10" y="612.80" width="2.80" height="2.80" fill="#1697af" />
<rect x="631.10" y="612.60" width="2.80" height="2.80" fill="#1697af" />
<rect x="629.90" y="618.60" width="2.80" height="2.80" fill="#1697af" />
<path d="M590.00,590.70 L590.00,589.20 L631.70,589.20 L631.70,590.70" fill="none" stroke="#8a8a8a" stroke-width="0.55" />
<text x="610.85" y="586.40" font-size="4.4" text-anchor="middle" fill="#222">0.2249</text>
<path d="M590.00,600.70 L590.00,599.20 L610.80,599.20 L610.80,600.70" fill="none" stroke="#8a8a8a" stroke-width="0.55" />
<text x="600.40" y="596.40" font-size="4.4" text-anchor="middle" fill="#222">0.2475</text>
<path d="M611.80,600.70 L611.80,599.20 L631.70,599.20 L631.70,600.70" fill="none" stroke="#8a8a8a" stroke-width="0.55" />
<text x="621.75" y="596.40" font-size="4.4" text-anchor="middle" fill="#222">0.5922</text>
<text x="382.30" y="672.80" font-size="6.0" font-weight="bold" text-anchor="middle" fill="#555">-</text>
<text x="402.20" y="673.00" font-size="6.8" font-weight="bold" text-anchor="middle" fill="#111">+</text>
<text x="422.40" y="673.00" font-size="6.8" font-weight="bold" text-anchor="middle" fill="#111">+</text>
<text x="382.30" y="687.20" font-size="6.0" font-weight="bold" text-anchor="middle" fill="#555">-</text>
<text x="402.20" y="687.20" font-size="6.0" font-weight="bold" text-anchor="middle" fill="#555">-</text>
<text x="422.40" y="687.40" font-size="6.8" font-weight="bold" text-anchor="middle" fill="#29a3bf">+</text>
<text x="484.70" y="672.80" font-size="6.0" font-weight="bold" text-anchor="middle" fill="#555">-</text>
<text x="504.90" y="673.00" font-size="6.8" font-weight="bold" text-anchor="middle" fill="#111">+</text>
<text x="525.10" y="673.00" font-size="6.8" font-weight="bold" text-anchor="middle" fill="#111">+</text>
<text x="484.70" y="687.20" font-size="6.0" font-weight="bold" text-anchor="middle" fill="#555">-</text>
<text x="504.90" y="687.20" font-size="6.0" font-weight="bold" text-anchor="middle" fill="#555">-</text>
<text x="525.10" y="687.40" font-size="6.8" font-weight="bold" text-anchor="middle" fill="#29a3bf">+</text>
<text x="591.00" y="672.80" font-size="6.0" font-weight="bold" text-anchor="middle" fill="#555">-</text>
<text x="611.00" y="673.00" font-size="6.8" font-weight="bold" text-anchor="middle" fill="#111">+</text>
<text x="631.30" y="673.00" font-size="6.8" font-weight="bold" text-anchor="middle" fill="#111">+</text>
<text x="591.00" y="687.20" font-size="6.0" font-weight="bold" text-anchor="middle" fill="#555">-</text>
<text x="611.00" y="687.20" font-size="6.0" font-weight="bold" text-anchor="middle" fill="#555">-</text>
<text x="631.30" y="687.40" font-size="6.8" font-weight="bold" text-anchor="middle" fill="#29a3bf">+</text>
</svg>
</body></html>
